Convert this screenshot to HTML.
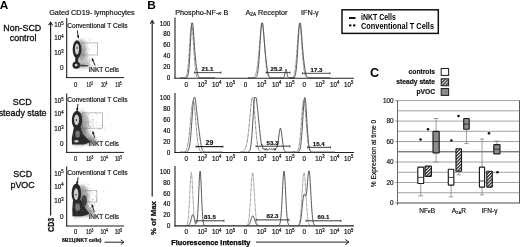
<!DOCTYPE html>
<html><head><meta charset="utf-8"><title>Figure</title>
<style>
html,body{margin:0;padding:0;background:#fff;}
body{width:520px;height:247px;overflow:hidden;}
svg{display:block;font-family:"Liberation Sans",sans-serif;}
</style></head><body>
<svg width="520" height="247" viewBox="0 0 520 247">
<defs>
<filter id="bl2" x="-50%" y="-50%" width="200%" height="200%"><feGaussianBlur stdDeviation="1.8"/></filter>
<filter id="bl1" x="-50%" y="-50%" width="200%" height="200%"><feGaussianBlur stdDeviation="0.7"/></filter>
<filter id="bl12" x="-50%" y="-50%" width="200%" height="200%"><feGaussianBlur stdDeviation="1.1"/></filter>
<filter id="bl06" x="-50%" y="-50%" width="200%" height="200%"><feGaussianBlur stdDeviation="0.65"/></filter>
<filter id="bl03" x="-50%" y="-50%" width="200%" height="200%"><feGaussianBlur stdDeviation="0.3"/></filter>
<filter id="bl05" x="-50%" y="-50%" width="200%" height="200%"><feGaussianBlur stdDeviation="0.45"/></filter>
<pattern id="hatch" width="2.3" height="2.3" patternUnits="userSpaceOnUse" patternTransform="rotate(45)"><rect width="2.3" height="2.3" fill="#fff"/><rect width="1.25" height="2.3" fill="#222"/></pattern>
</defs>
<rect width="520" height="247" fill="#fff"/>
<text x="-0.3" y="9.3" font-size="11.8" text-anchor="start" font-weight="bold" fill="#000">A</text>
<text x="49.2" y="14.5" font-size="7.3" text-anchor="start" fill="#111" stroke="#111" stroke-width="0.18">Gated CD19- lymphocytes</text>
<text x="22.3" y="30.5" font-size="8.9" text-anchor="middle" fill="#111" stroke="#111" stroke-width="0.32">Non-SCD</text>
<text x="23.1" y="40.8" font-size="8.9" text-anchor="middle" fill="#111" stroke="#111" stroke-width="0.32">control</text>
<text x="22.2" y="105.1" font-size="8.9" text-anchor="middle" fill="#111" stroke="#111" stroke-width="0.32">SCD</text>
<text x="22.6" y="115.7" font-size="8.9" text-anchor="middle" fill="#111" stroke="#111" stroke-width="0.32">steady state</text>
<text x="22.7" y="177.3" font-size="8.9" text-anchor="middle" fill="#111" stroke="#111" stroke-width="0.32">SCD</text>
<text x="22.6" y="188.0" font-size="8.9" text-anchor="middle" fill="#111" stroke="#111" stroke-width="0.32">pVOC</text>
<line x1="50.6" y1="22.8" x2="50.6" y2="215.5" stroke="#222" stroke-width="1.2"/>
<path d="M48.6 25.3 L50.6 22.2 L52.6 25.3" fill="none" stroke="#222" stroke-width="1.1" stroke-linejoin="miter"/>
<text transform="translate(54.0,231.9) rotate(-90)" font-size="8.6" font-weight="bold" fill="#111" stroke="#111" stroke-width="0.25" textLength="14" lengthAdjust="spacingAndGlyphs">CD3</text>
<text x="62" y="242.0" font-size="5.05" text-anchor="start" font-weight="bold" fill="#111" stroke="#000" stroke-width="0.2">6B11(iNKT cells)</text>
<line x1="104.5" y1="242.2" x2="123.5" y2="242.2" stroke="#222" stroke-width="1.0"/>
<path d="M120.78 239.89999999999998 L124 242.2 L120.78 244.5" fill="none" stroke="#222" stroke-width="1.0"/>
<line x1="66.7" y1="18.1" x2="66.7" y2="78.1" stroke="#222" stroke-width="1.1"/>
<line x1="66.2" y1="77.6" x2="124" y2="77.6" stroke="#1a1a1a" stroke-width="1.0"/>
<text transform="translate(54.2,27.3) scale(1,1.15)" font-size="6.25" text-anchor="start" fill="#111" stroke="#111" stroke-width="0.18">10<tspan font-size="4.25" dy="-2.00">5</tspan></text>
<text transform="translate(54.2,40.3) scale(1,1.15)" font-size="6.25" text-anchor="start" fill="#111" stroke="#111" stroke-width="0.18">10<tspan font-size="4.25" dy="-2.00">4</tspan></text>
<text transform="translate(54.2,55.099999999999994) scale(1,1.15)" font-size="6.25" text-anchor="start" fill="#111" stroke="#111" stroke-width="0.18">10<tspan font-size="4.25" dy="-2.00">3</tspan></text>
<text x="63.5" y="70.3" font-size="6.4" text-anchor="end" fill="#111" stroke="#111" stroke-width="0.18">0</text>
<text transform="translate(75.5,87.2) scale(0.9,1.08)" font-size="6.3" text-anchor="middle" fill="#111" stroke="#111" stroke-width="0.18">0</text>
<text transform="translate(89.7,87.2) scale(0.68,1.08)" font-size="6.3" text-anchor="middle" fill="#111" stroke="#111" stroke-width="0.18">10<tspan font-size="4.16" dy="-2.02">3</tspan></text>
<text transform="translate(104.1,87.2) scale(0.68,1.08)" font-size="6.3" text-anchor="middle" fill="#111" stroke="#111" stroke-width="0.18">10<tspan font-size="4.16" dy="-2.02">4</tspan></text>
<text transform="translate(118.5,87.2) scale(0.68,1.08)" font-size="6.3" text-anchor="middle" fill="#111" stroke="#111" stroke-width="0.18">10<tspan font-size="4.16" dy="-2.02">5</tspan></text>
<text x="67.3" y="27.95" font-size="6.55" text-anchor="start" fill="#111" stroke="#111" stroke-width="0.18">Conventional T Cells</text>
<text x="88.8" y="72.3" font-size="6.45" text-anchor="start" fill="#111" stroke="#111" stroke-width="0.18">iNKT Cells</text>
<rect x="81.4" y="42.9" width="16.19999999999999" height="12.100000000000001" fill="none" stroke="#a8a8a8" stroke-width="0.75"/>
<g fill="#333" opacity="0.35"><circle cx="82.7" cy="55.4" r="0.45"/><circle cx="90.4" cy="48.1" r="0.45"/><circle cx="81.6" cy="50.7" r="0.45"/><circle cx="79.1" cy="50.0" r="0.45"/><circle cx="81.1" cy="50.8" r="0.45"/><circle cx="78.1" cy="47.7" r="0.45"/><circle cx="98.1" cy="42.7" r="0.45"/><circle cx="89.3" cy="40.8" r="0.45"/><circle cx="82.9" cy="53.6" r="0.45"/><circle cx="81.4" cy="53.8" r="0.45"/><circle cx="84.6" cy="45.2" r="0.45"/><circle cx="87.3" cy="52.4" r="0.45"/><circle cx="82.3" cy="44.9" r="0.45"/><circle cx="82.6" cy="50.8" r="0.45"/><circle cx="79.6" cy="48.4" r="0.45"/><circle cx="76.9" cy="49.2" r="0.45"/><circle cx="79.8" cy="45.3" r="0.45"/><circle cx="102.5" cy="59.6" r="0.45"/><circle cx="80.6" cy="51.6" r="0.45"/><circle cx="79.0" cy="49.9" r="0.45"/><circle cx="83.2" cy="47.0" r="0.45"/><circle cx="91.3" cy="45.1" r="0.45"/><circle cx="84.7" cy="43.6" r="0.45"/><circle cx="82.5" cy="51.0" r="0.45"/><circle cx="90.1" cy="39.4" r="0.45"/><circle cx="79.6" cy="50.4" r="0.45"/><circle cx="84.8" cy="50.6" r="0.45"/><circle cx="80.3" cy="50.4" r="0.45"/><circle cx="79.0" cy="50.1" r="0.45"/><circle cx="87.6" cy="53.5" r="0.45"/><circle cx="75.1" cy="47.0" r="0.45"/><circle cx="81.2" cy="58.7" r="0.45"/><circle cx="90.7" cy="60.4" r="0.45"/><circle cx="86.4" cy="60.7" r="0.45"/><circle cx="80.4" cy="59.4" r="0.45"/><circle cx="80.2" cy="50.0" r="0.45"/><circle cx="94.3" cy="61.8" r="0.45"/><circle cx="88.9" cy="49.3" r="0.45"/><circle cx="88.0" cy="37.1" r="0.45"/><circle cx="84.0" cy="46.4" r="0.45"/><circle cx="81.9" cy="51.7" r="0.45"/><circle cx="81.5" cy="50.8" r="0.45"/><circle cx="80.2" cy="53.3" r="0.45"/><circle cx="86.7" cy="50.0" r="0.45"/><circle cx="78.6" cy="50.6" r="0.45"/><circle cx="80.3" cy="49.2" r="0.45"/><circle cx="79.1" cy="53.9" r="0.45"/><circle cx="77.7" cy="45.5" r="0.45"/><circle cx="83.1" cy="50.6" r="0.45"/><circle cx="79.2" cy="50.3" r="0.45"/><circle cx="78.8" cy="49.3" r="0.45"/><circle cx="80.8" cy="49.8" r="0.45"/><circle cx="75.5" cy="47.7" r="0.45"/><circle cx="80.3" cy="48.9" r="0.45"/><circle cx="79.3" cy="52.9" r="0.45"/><circle cx="83.4" cy="49.3" r="0.45"/><circle cx="78.6" cy="51.9" r="0.45"/><circle cx="89.7" cy="39.7" r="0.45"/><circle cx="79.2" cy="49.7" r="0.45"/><circle cx="83.4" cy="54.0" r="0.45"/><circle cx="80.4" cy="50.2" r="0.45"/><circle cx="86.3" cy="48.5" r="0.45"/><circle cx="101.7" cy="43.2" r="0.45"/><circle cx="79.3" cy="51.3" r="0.45"/><circle cx="78.6" cy="52.7" r="0.45"/><circle cx="86.1" cy="41.9" r="0.45"/><circle cx="79.7" cy="49.2" r="0.45"/><circle cx="82.3" cy="48.5" r="0.45"/><circle cx="79.0" cy="45.6" r="0.45"/><circle cx="79.4" cy="50.5" r="0.45"/><circle cx="76.7" cy="49.0" r="0.45"/><circle cx="80.0" cy="45.6" r="0.45"/><circle cx="87.7" cy="56.5" r="0.45"/><circle cx="89.6" cy="60.0" r="0.45"/><circle cx="84.0" cy="49.5" r="0.45"/><circle cx="84.2" cy="54.1" r="0.45"/><circle cx="76.9" cy="49.1" r="0.45"/><circle cx="76.3" cy="52.9" r="0.45"/><circle cx="79.8" cy="48.8" r="0.45"/><circle cx="79.4" cy="55.3" r="0.45"/><circle cx="78.9" cy="53.3" r="0.45"/><circle cx="80.6" cy="51.5" r="0.45"/><circle cx="76.8" cy="46.9" r="0.45"/><circle cx="84.9" cy="50.0" r="0.45"/><circle cx="89.5" cy="48.9" r="0.45"/><circle cx="80.2" cy="50.0" r="0.45"/><circle cx="86.4" cy="60.0" r="0.45"/><circle cx="80.2" cy="51.7" r="0.45"/><circle cx="79.9" cy="49.8" r="0.45"/><circle cx="79.0" cy="53.3" r="0.45"/><circle cx="80.8" cy="40.9" r="0.45"/><circle cx="79.5" cy="49.8" r="0.45"/><circle cx="88.0" cy="44.4" r="0.45"/><circle cx="79.4" cy="50.1" r="0.45"/><circle cx="74.7" cy="51.4" r="0.45"/><circle cx="84.2" cy="48.6" r="0.45"/><circle cx="95.5" cy="45.3" r="0.45"/><circle cx="83.8" cy="53.3" r="0.45"/><circle cx="79.2" cy="50.1" r="0.45"/><circle cx="78.8" cy="47.3" r="0.45"/><circle cx="80.7" cy="51.8" r="0.45"/><circle cx="75.8" cy="43.1" r="0.45"/><circle cx="80.8" cy="56.8" r="0.45"/><circle cx="81.9" cy="49.9" r="0.45"/><circle cx="84.7" cy="56.6" r="0.45"/><circle cx="80.7" cy="53.4" r="0.45"/><circle cx="81.2" cy="41.1" r="0.45"/><circle cx="80.5" cy="50.1" r="0.45"/><circle cx="78.2" cy="48.2" r="0.45"/><circle cx="79.0" cy="49.8" r="0.45"/></g>
<g fill="#333" opacity="0.35"><circle cx="80.2" cy="65.0" r="0.45"/><circle cx="80.4" cy="65.6" r="0.45"/><circle cx="93.7" cy="66.6" r="0.45"/><circle cx="78.3" cy="66.7" r="0.45"/><circle cx="81.2" cy="64.9" r="0.45"/><circle cx="81.5" cy="64.2" r="0.45"/><circle cx="91.7" cy="66.3" r="0.45"/><circle cx="78.6" cy="65.6" r="0.45"/><circle cx="86.5" cy="65.6" r="0.45"/><circle cx="77.7" cy="64.4" r="0.45"/><circle cx="80.9" cy="66.8" r="0.45"/><circle cx="86.8" cy="66.2" r="0.45"/><circle cx="82.4" cy="65.2" r="0.45"/><circle cx="80.5" cy="63.2" r="0.45"/><circle cx="84.0" cy="65.0" r="0.45"/><circle cx="80.0" cy="66.8" r="0.45"/><circle cx="80.6" cy="63.7" r="0.45"/><circle cx="81.9" cy="64.8" r="0.45"/><circle cx="84.4" cy="62.9" r="0.45"/><circle cx="83.7" cy="65.7" r="0.45"/><circle cx="83.4" cy="63.1" r="0.45"/><circle cx="80.3" cy="64.8" r="0.45"/><circle cx="81.6" cy="65.2" r="0.45"/><circle cx="82.4" cy="65.3" r="0.45"/><circle cx="80.1" cy="65.5" r="0.45"/><circle cx="82.4" cy="64.4" r="0.45"/><circle cx="80.1" cy="65.1" r="0.45"/><circle cx="84.5" cy="66.5" r="0.45"/><circle cx="82.1" cy="70.7" r="0.45"/><circle cx="79.9" cy="66.4" r="0.45"/><circle cx="80.1" cy="65.1" r="0.45"/><circle cx="80.4" cy="65.0" r="0.45"/><circle cx="80.3" cy="65.2" r="0.45"/><circle cx="80.0" cy="65.0" r="0.45"/><circle cx="88.1" cy="65.5" r="0.45"/><circle cx="81.0" cy="64.9" r="0.45"/><circle cx="80.0" cy="63.1" r="0.45"/><circle cx="90.1" cy="66.9" r="0.45"/><circle cx="89.3" cy="64.8" r="0.45"/><circle cx="92.3" cy="65.8" r="0.45"/><circle cx="88.7" cy="63.4" r="0.45"/><circle cx="87.4" cy="67.0" r="0.45"/><circle cx="89.1" cy="64.9" r="0.45"/><circle cx="76.0" cy="63.3" r="0.45"/><circle cx="81.0" cy="64.5" r="0.45"/><circle cx="84.5" cy="66.1" r="0.45"/><circle cx="85.1" cy="65.9" r="0.45"/><circle cx="87.6" cy="63.3" r="0.45"/><circle cx="97.7" cy="65.3" r="0.45"/><circle cx="80.4" cy="65.0" r="0.45"/><circle cx="88.0" cy="62.2" r="0.45"/><circle cx="85.8" cy="65.7" r="0.45"/><circle cx="79.8" cy="64.0" r="0.45"/><circle cx="95.6" cy="65.1" r="0.45"/><circle cx="86.8" cy="65.2" r="0.45"/><circle cx="89.6" cy="62.3" r="0.45"/><circle cx="80.2" cy="65.1" r="0.45"/><circle cx="94.9" cy="63.5" r="0.45"/><circle cx="81.6" cy="65.1" r="0.45"/><circle cx="86.6" cy="62.1" r="0.45"/></g>
<g filter="url(#bl2)"><ellipse cx="81" cy="50" rx="6" ry="11" fill="#777" opacity="0.5"/><ellipse cx="82" cy="65.5" rx="9" ry="3" fill="#777" opacity="0.45"/><path d="M79 44 L91 62 L79 66 Z" fill="#777" opacity="0.35"/></g>
<g filter="url(#bl06)"><ellipse cx="77" cy="49.3" rx="4.3" ry="9" fill="#282828"/><path d="M75.3 56 L78.3 56 L78.2 63 L75.2 63 Z" fill="#2a2a2a"/><ellipse cx="76.3" cy="65.2" rx="3.8" ry="3.6" fill="#282828"/><ellipse cx="83" cy="65.6" rx="5.5" ry="0.9" fill="#444"/></g>
<ellipse cx="77" cy="49" rx="2.1" ry="5.6" fill="#d2d2d2" filter="url(#bl05)"/><ellipse cx="77" cy="47.9" rx="0.55" ry="1.0" fill="#222"/><ellipse cx="76.1" cy="65.1" rx="1.4" ry="1.3" fill="#d0d0d0" filter="url(#bl05)"/>
<line x1="77.3" y1="30.5" x2="78.4" y2="38.2" stroke="#111" stroke-width="0.9"/>
<path d="M78.40 38.20 L76.75 35.81 L79.32 35.44 Z" fill="#111"/>
<line x1="95.1" y1="65.6" x2="92" y2="58.3" stroke="#111" stroke-width="0.9"/>
<path d="M92.00 58.30 L94.21 60.19 L91.82 61.20 Z" fill="#111"/>
<line x1="66.7" y1="93.6" x2="66.7" y2="152.9" stroke="#222" stroke-width="1.1"/>
<line x1="66.2" y1="152.4" x2="124" y2="152.4" stroke="#1a1a1a" stroke-width="1.0"/>
<text transform="translate(54.2,103.2) scale(1,1.15)" font-size="6.25" text-anchor="start" fill="#111" stroke="#111" stroke-width="0.18">10<tspan font-size="4.25" dy="-2.00">5</tspan></text>
<text transform="translate(54.2,116.2) scale(1,1.15)" font-size="6.25" text-anchor="start" fill="#111" stroke="#111" stroke-width="0.18">10<tspan font-size="4.25" dy="-2.00">4</tspan></text>
<text transform="translate(54.2,131.00000000000003) scale(1,1.15)" font-size="6.25" text-anchor="start" fill="#111" stroke="#111" stroke-width="0.18">10<tspan font-size="4.25" dy="-2.00">3</tspan></text>
<text x="63.5" y="145.8" font-size="6.4" text-anchor="end" fill="#111" stroke="#111" stroke-width="0.18">0</text>
<text transform="translate(75.5,161.2) scale(0.9,1.08)" font-size="6.3" text-anchor="middle" fill="#111" stroke="#111" stroke-width="0.18">0</text>
<text transform="translate(89.7,161.2) scale(0.76,1.08)" font-size="6.3" text-anchor="middle" fill="#111" stroke="#111" stroke-width="0.18">10<tspan font-size="4.16" dy="-2.02">3</tspan></text>
<text transform="translate(104.1,161.2) scale(0.76,1.08)" font-size="6.3" text-anchor="middle" fill="#111" stroke="#111" stroke-width="0.18">10<tspan font-size="4.16" dy="-2.02">4</tspan></text>
<text transform="translate(118.5,161.2) scale(0.76,1.08)" font-size="6.3" text-anchor="middle" fill="#111" stroke="#111" stroke-width="0.18">10<tspan font-size="4.16" dy="-2.02">5</tspan></text>
<text x="67.3" y="101.6" font-size="6.55" text-anchor="start" fill="#111" stroke="#111" stroke-width="0.18">Conventional T Cells</text>
<text x="88.8" y="146.10000000000002" font-size="6.45" text-anchor="start" fill="#111" stroke="#111" stroke-width="0.18">iNKT Cells</text>
<rect x="82.2" y="112.9" width="20.200000000000003" height="15.299999999999983" fill="none" stroke="#a8a8a8" stroke-width="0.75"/>
<g fill="#333" opacity="0.4"><circle cx="93.2" cy="125.1" r="0.45"/><circle cx="82.3" cy="124.8" r="0.45"/><circle cx="82.1" cy="125.8" r="0.45"/><circle cx="79.9" cy="125.5" r="0.45"/><circle cx="79.7" cy="126.2" r="0.45"/><circle cx="82.0" cy="131.1" r="0.45"/><circle cx="98.6" cy="140.6" r="0.45"/><circle cx="81.9" cy="123.4" r="0.45"/><circle cx="79.4" cy="124.9" r="0.45"/><circle cx="88.4" cy="126.5" r="0.45"/><circle cx="93.2" cy="126.2" r="0.45"/><circle cx="80.4" cy="126.3" r="0.45"/><circle cx="80.2" cy="126.2" r="0.45"/><circle cx="80.3" cy="125.7" r="0.45"/><circle cx="85.4" cy="124.3" r="0.45"/><circle cx="97.6" cy="137.6" r="0.45"/><circle cx="89.7" cy="126.0" r="0.45"/><circle cx="81.0" cy="129.8" r="0.45"/><circle cx="78.8" cy="127.9" r="0.45"/><circle cx="80.0" cy="131.4" r="0.45"/><circle cx="78.7" cy="125.8" r="0.45"/><circle cx="88.1" cy="121.4" r="0.45"/><circle cx="96.7" cy="114.5" r="0.45"/><circle cx="82.8" cy="116.7" r="0.45"/><circle cx="82.1" cy="113.8" r="0.45"/><circle cx="81.4" cy="129.8" r="0.45"/><circle cx="88.5" cy="123.3" r="0.45"/><circle cx="82.9" cy="132.0" r="0.45"/><circle cx="81.1" cy="125.9" r="0.45"/><circle cx="96.5" cy="122.0" r="0.45"/><circle cx="79.4" cy="128.4" r="0.45"/><circle cx="87.0" cy="126.1" r="0.45"/><circle cx="91.0" cy="121.3" r="0.45"/><circle cx="80.1" cy="126.2" r="0.45"/><circle cx="84.1" cy="130.0" r="0.45"/><circle cx="78.7" cy="124.7" r="0.45"/><circle cx="80.0" cy="119.2" r="0.45"/><circle cx="84.7" cy="128.9" r="0.45"/><circle cx="85.0" cy="127.3" r="0.45"/><circle cx="111.2" cy="125.6" r="0.45"/><circle cx="81.3" cy="125.0" r="0.45"/><circle cx="87.6" cy="129.5" r="0.45"/><circle cx="93.7" cy="123.4" r="0.45"/><circle cx="99.6" cy="128.6" r="0.45"/><circle cx="92.6" cy="119.8" r="0.45"/><circle cx="79.4" cy="127.1" r="0.45"/><circle cx="89.1" cy="114.7" r="0.45"/><circle cx="99.8" cy="136.3" r="0.45"/><circle cx="91.8" cy="124.9" r="0.45"/><circle cx="95.8" cy="112.7" r="0.45"/><circle cx="83.1" cy="126.5" r="0.45"/><circle cx="80.0" cy="126.7" r="0.45"/><circle cx="81.3" cy="124.9" r="0.45"/><circle cx="83.9" cy="123.1" r="0.45"/><circle cx="90.2" cy="131.5" r="0.45"/><circle cx="84.8" cy="128.6" r="0.45"/><circle cx="88.2" cy="122.1" r="0.45"/><circle cx="80.7" cy="125.9" r="0.45"/><circle cx="86.5" cy="122.3" r="0.45"/><circle cx="81.3" cy="125.8" r="0.45"/><circle cx="85.0" cy="134.4" r="0.45"/><circle cx="81.7" cy="126.6" r="0.45"/><circle cx="83.8" cy="121.7" r="0.45"/><circle cx="82.1" cy="128.1" r="0.45"/><circle cx="82.8" cy="122.0" r="0.45"/><circle cx="100.5" cy="125.6" r="0.45"/><circle cx="88.3" cy="125.0" r="0.45"/><circle cx="83.7" cy="139.0" r="0.45"/><circle cx="83.8" cy="134.3" r="0.45"/><circle cx="80.7" cy="128.6" r="0.45"/><circle cx="83.3" cy="122.5" r="0.45"/><circle cx="79.9" cy="127.3" r="0.45"/><circle cx="82.5" cy="128.0" r="0.45"/><circle cx="79.7" cy="125.5" r="0.45"/><circle cx="83.0" cy="108.3" r="0.45"/><circle cx="79.9" cy="126.3" r="0.45"/><circle cx="80.4" cy="114.9" r="0.45"/><circle cx="82.5" cy="127.6" r="0.45"/><circle cx="84.8" cy="131.5" r="0.45"/><circle cx="80.2" cy="126.0" r="0.45"/><circle cx="82.9" cy="125.6" r="0.45"/><circle cx="84.8" cy="119.7" r="0.45"/><circle cx="76.7" cy="128.2" r="0.45"/><circle cx="80.7" cy="127.2" r="0.45"/><circle cx="89.7" cy="121.3" r="0.45"/><circle cx="80.2" cy="124.5" r="0.45"/><circle cx="104.5" cy="129.5" r="0.45"/><circle cx="79.9" cy="119.4" r="0.45"/><circle cx="82.3" cy="128.3" r="0.45"/><circle cx="82.3" cy="145.1" r="0.45"/><circle cx="80.1" cy="126.1" r="0.45"/><circle cx="80.9" cy="125.7" r="0.45"/><circle cx="88.2" cy="124.1" r="0.45"/><circle cx="79.6" cy="125.8" r="0.45"/><circle cx="80.1" cy="126.0" r="0.45"/><circle cx="91.5" cy="122.4" r="0.45"/><circle cx="80.5" cy="125.0" r="0.45"/><circle cx="97.5" cy="117.1" r="0.45"/><circle cx="85.8" cy="133.9" r="0.45"/><circle cx="85.2" cy="135.7" r="0.45"/><circle cx="80.0" cy="127.9" r="0.45"/><circle cx="79.8" cy="126.7" r="0.45"/><circle cx="87.0" cy="122.0" r="0.45"/><circle cx="80.6" cy="126.3" r="0.45"/><circle cx="82.1" cy="120.9" r="0.45"/><circle cx="82.1" cy="124.7" r="0.45"/><circle cx="80.1" cy="119.5" r="0.45"/><circle cx="87.9" cy="118.1" r="0.45"/><circle cx="92.6" cy="122.4" r="0.45"/><circle cx="80.2" cy="135.0" r="0.45"/><circle cx="86.8" cy="132.2" r="0.45"/><circle cx="77.5" cy="130.1" r="0.45"/><circle cx="82.6" cy="125.9" r="0.45"/><circle cx="101.8" cy="125.2" r="0.45"/><circle cx="77.1" cy="127.0" r="0.45"/><circle cx="100.4" cy="129.4" r="0.45"/><circle cx="88.8" cy="131.2" r="0.45"/><circle cx="107.3" cy="117.8" r="0.45"/><circle cx="85.9" cy="121.8" r="0.45"/><circle cx="82.8" cy="125.4" r="0.45"/><circle cx="85.1" cy="123.8" r="0.45"/><circle cx="83.7" cy="128.9" r="0.45"/><circle cx="80.4" cy="135.1" r="0.45"/><circle cx="90.3" cy="126.5" r="0.45"/><circle cx="81.8" cy="123.6" r="0.45"/><circle cx="82.7" cy="120.1" r="0.45"/><circle cx="89.0" cy="128.4" r="0.45"/><circle cx="84.6" cy="122.5" r="0.45"/><circle cx="82.2" cy="128.3" r="0.45"/><circle cx="78.8" cy="133.0" r="0.45"/><circle cx="84.0" cy="132.1" r="0.45"/><circle cx="79.1" cy="123.8" r="0.45"/><circle cx="84.2" cy="129.1" r="0.45"/><circle cx="74.5" cy="126.4" r="0.45"/><circle cx="78.6" cy="127.6" r="0.45"/><circle cx="90.8" cy="127.7" r="0.45"/><circle cx="75.1" cy="127.0" r="0.45"/><circle cx="84.7" cy="127.9" r="0.45"/><circle cx="84.7" cy="129.1" r="0.45"/><circle cx="79.9" cy="126.0" r="0.45"/><circle cx="74.9" cy="134.8" r="0.45"/><circle cx="80.4" cy="126.8" r="0.45"/><circle cx="92.9" cy="122.9" r="0.45"/><circle cx="81.9" cy="125.4" r="0.45"/><circle cx="93.5" cy="120.1" r="0.45"/><circle cx="83.5" cy="116.4" r="0.45"/><circle cx="90.7" cy="130.7" r="0.45"/><circle cx="83.7" cy="137.7" r="0.45"/><circle cx="84.6" cy="125.7" r="0.45"/><circle cx="79.8" cy="123.4" r="0.45"/><circle cx="98.2" cy="129.1" r="0.45"/><circle cx="84.1" cy="121.8" r="0.45"/><circle cx="93.1" cy="120.0" r="0.45"/><circle cx="84.6" cy="127.6" r="0.45"/><circle cx="86.4" cy="128.0" r="0.45"/><circle cx="90.9" cy="127.0" r="0.45"/><circle cx="81.9" cy="126.1" r="0.45"/><circle cx="99.8" cy="129.4" r="0.45"/><circle cx="84.9" cy="126.5" r="0.45"/><circle cx="83.3" cy="127.4" r="0.45"/><circle cx="96.6" cy="125.3" r="0.45"/><circle cx="80.5" cy="123.2" r="0.45"/><circle cx="93.5" cy="125.4" r="0.45"/><circle cx="84.6" cy="125.1" r="0.45"/><circle cx="92.2" cy="116.2" r="0.45"/><circle cx="80.0" cy="126.3" r="0.45"/><circle cx="105.9" cy="126.8" r="0.45"/><circle cx="79.5" cy="121.5" r="0.45"/><circle cx="91.0" cy="129.1" r="0.45"/><circle cx="93.0" cy="119.7" r="0.45"/></g>
<g fill="#333" opacity="0.4"><circle cx="81.0" cy="139.5" r="0.45"/><circle cx="84.6" cy="143.0" r="0.45"/><circle cx="83.3" cy="141.0" r="0.45"/><circle cx="81.6" cy="141.5" r="0.45"/><circle cx="84.3" cy="140.0" r="0.45"/><circle cx="85.1" cy="141.5" r="0.45"/><circle cx="91.3" cy="138.9" r="0.45"/><circle cx="77.5" cy="139.3" r="0.45"/><circle cx="94.3" cy="142.9" r="0.45"/><circle cx="82.2" cy="140.9" r="0.45"/><circle cx="91.2" cy="140.9" r="0.45"/><circle cx="86.5" cy="141.3" r="0.45"/><circle cx="82.8" cy="137.1" r="0.45"/><circle cx="80.8" cy="140.1" r="0.45"/><circle cx="86.2" cy="140.5" r="0.45"/><circle cx="90.0" cy="141.3" r="0.45"/><circle cx="79.3" cy="139.4" r="0.45"/><circle cx="85.7" cy="141.8" r="0.45"/><circle cx="82.5" cy="140.9" r="0.45"/><circle cx="82.1" cy="141.0" r="0.45"/><circle cx="84.0" cy="143.5" r="0.45"/><circle cx="87.2" cy="140.0" r="0.45"/><circle cx="87.0" cy="142.1" r="0.45"/><circle cx="84.6" cy="141.4" r="0.45"/><circle cx="83.5" cy="140.7" r="0.45"/><circle cx="92.9" cy="141.2" r="0.45"/><circle cx="90.6" cy="140.3" r="0.45"/><circle cx="93.8" cy="140.0" r="0.45"/><circle cx="82.0" cy="141.5" r="0.45"/><circle cx="83.6" cy="141.2" r="0.45"/><circle cx="82.3" cy="141.0" r="0.45"/><circle cx="83.6" cy="140.9" r="0.45"/><circle cx="85.2" cy="142.9" r="0.45"/><circle cx="85.2" cy="139.5" r="0.45"/><circle cx="81.9" cy="141.2" r="0.45"/><circle cx="82.7" cy="140.4" r="0.45"/><circle cx="92.2" cy="141.1" r="0.45"/><circle cx="82.8" cy="138.0" r="0.45"/><circle cx="83.0" cy="142.2" r="0.45"/><circle cx="84.5" cy="141.8" r="0.45"/><circle cx="85.3" cy="139.2" r="0.45"/><circle cx="95.5" cy="140.0" r="0.45"/><circle cx="84.0" cy="139.3" r="0.45"/><circle cx="83.2" cy="140.9" r="0.45"/><circle cx="88.2" cy="139.8" r="0.45"/><circle cx="82.0" cy="140.8" r="0.45"/><circle cx="82.3" cy="138.9" r="0.45"/><circle cx="81.6" cy="145.0" r="0.45"/><circle cx="80.8" cy="140.2" r="0.45"/><circle cx="97.0" cy="141.6" r="0.45"/><circle cx="84.4" cy="139.6" r="0.45"/><circle cx="90.3" cy="140.2" r="0.45"/><circle cx="81.8" cy="141.6" r="0.45"/><circle cx="83.9" cy="141.5" r="0.45"/><circle cx="89.2" cy="142.1" r="0.45"/><circle cx="86.3" cy="141.2" r="0.45"/><circle cx="86.0" cy="138.9" r="0.45"/><circle cx="93.6" cy="142.0" r="0.45"/><circle cx="80.4" cy="142.3" r="0.45"/><circle cx="76.9" cy="142.5" r="0.45"/><circle cx="86.2" cy="140.5" r="0.45"/><circle cx="83.4" cy="141.2" r="0.45"/><circle cx="85.4" cy="140.0" r="0.45"/><circle cx="91.8" cy="138.9" r="0.45"/><circle cx="94.2" cy="142.8" r="0.45"/><circle cx="86.5" cy="142.9" r="0.45"/><circle cx="82.4" cy="141.0" r="0.45"/><circle cx="88.0" cy="142.3" r="0.45"/><circle cx="102.9" cy="140.0" r="0.45"/><circle cx="82.5" cy="141.0" r="0.45"/><circle cx="83.3" cy="141.1" r="0.45"/><circle cx="91.8" cy="140.5" r="0.45"/><circle cx="93.1" cy="138.4" r="0.45"/><circle cx="93.0" cy="141.0" r="0.45"/><circle cx="82.1" cy="140.8" r="0.45"/><circle cx="82.1" cy="141.0" r="0.45"/><circle cx="86.1" cy="142.9" r="0.45"/><circle cx="82.0" cy="141.1" r="0.45"/><circle cx="82.8" cy="141.7" r="0.45"/><circle cx="94.8" cy="143.1" r="0.45"/></g>
<g filter="url(#bl2)"><ellipse cx="82" cy="123" rx="7" ry="12" fill="#666" opacity="0.5"/><path d="M76 120 L98 142 L74 146 Z" fill="#666" opacity="0.55"/><ellipse cx="86" cy="141" rx="10" ry="3.5" fill="#666" opacity="0.45"/></g>
<g filter="url(#bl06)"><ellipse cx="77" cy="120" rx="5.2" ry="9.2" fill="#282828"/><path d="M74 127 L80.6 127 L83 134 L88 139.5 L91 141.6 L88 143 L84 144.6 L72 144.6 L71.8 138 Z" fill="#2a2a2a"/></g>
<ellipse cx="76.6" cy="119.8" rx="2.5" ry="5.4" fill="#cfcfcf" filter="url(#bl05)"/><ellipse cx="76.5" cy="120.1" rx="0.55" ry="1.0" fill="#222"/><ellipse cx="76.4" cy="141.3" rx="2.3" ry="1.3" fill="#c8c8c8" filter="url(#bl05)"/>
<ellipse cx="77.6" cy="134" rx="2.2" ry="3.6" fill="#777" filter="url(#bl06)"/>
<g fill="#8a8a8a" opacity="0.6" filter="url(#bl03)"><circle cx="75.1" cy="136.7" r="0.5"/><circle cx="79.7" cy="136.7" r="0.5"/><circle cx="79.2" cy="133.0" r="0.5"/><circle cx="77.5" cy="133.4" r="0.5"/><circle cx="81.2" cy="130.7" r="0.5"/><circle cx="81.2" cy="130.2" r="0.5"/><circle cx="76.0" cy="132.2" r="0.5"/><circle cx="81.3" cy="134.3" r="0.5"/><circle cx="77.3" cy="137.5" r="0.5"/><circle cx="76.3" cy="133.9" r="0.5"/></g>
<line x1="78" y1="104" x2="77" y2="111" stroke="#111" stroke-width="0.9"/>
<path d="M77.00 111.00 L76.08 108.24 L78.65 108.61 Z" fill="#111"/>
<line x1="94.8" y1="138" x2="92.7" y2="131.3" stroke="#111" stroke-width="0.9"/>
<path d="M92.70 131.30 L94.72 133.39 L92.24 134.17 Z" fill="#111"/>
<line x1="66.7" y1="166.6" x2="66.7" y2="226.5" stroke="#222" stroke-width="1.1"/>
<line x1="66.2" y1="226.0" x2="124" y2="226.0" stroke="#1a1a1a" stroke-width="1.0"/>
<text transform="translate(54.2,175.5) scale(1,1.15)" font-size="6.25" text-anchor="start" fill="#111" stroke="#111" stroke-width="0.18">10<tspan font-size="4.25" dy="-2.00">5</tspan></text>
<text transform="translate(54.2,188.5) scale(1,1.15)" font-size="6.25" text-anchor="start" fill="#111" stroke="#111" stroke-width="0.18">10<tspan font-size="4.25" dy="-2.00">4</tspan></text>
<text transform="translate(54.2,203.3) scale(1,1.15)" font-size="6.25" text-anchor="start" fill="#111" stroke="#111" stroke-width="0.18">10<tspan font-size="4.25" dy="-2.00">3</tspan></text>
<text x="63.5" y="218.8" font-size="6.4" text-anchor="end" fill="#111" stroke="#111" stroke-width="0.18">0</text>
<text transform="translate(75.5,233.7) scale(0.9,1.08)" font-size="6.3" text-anchor="middle" fill="#111" stroke="#111" stroke-width="0.18">0</text>
<text transform="translate(89.7,233.7) scale(0.8,1.08)" font-size="6.3" text-anchor="middle" fill="#111" stroke="#111" stroke-width="0.18">10<tspan font-size="4.16" dy="-2.02">3</tspan></text>
<text transform="translate(104.1,233.7) scale(0.8,1.08)" font-size="6.3" text-anchor="middle" fill="#111" stroke="#111" stroke-width="0.18">10<tspan font-size="4.16" dy="-2.02">4</tspan></text>
<text transform="translate(118.5,233.7) scale(0.8,1.08)" font-size="6.3" text-anchor="middle" fill="#111" stroke="#111" stroke-width="0.18">10<tspan font-size="4.16" dy="-2.02">5</tspan></text>
<text x="67.3" y="175.1" font-size="6.55" text-anchor="start" fill="#111" stroke="#111" stroke-width="0.18">Conventional T Cells</text>
<text x="88.8" y="218.8" font-size="6.45" text-anchor="start" fill="#111" stroke="#111" stroke-width="0.18">iNKT Cells</text>
<rect x="82.2" y="190.7" width="14.599999999999994" height="11.300000000000011" fill="none" stroke="#a8a8a8" stroke-width="0.75"/>
<g fill="#333" opacity="0.4"><circle cx="80.6" cy="198.9" r="0.45"/><circle cx="91.7" cy="209.5" r="0.45"/><circle cx="85.5" cy="204.2" r="0.45"/><circle cx="87.2" cy="207.3" r="0.45"/><circle cx="80.8" cy="195.5" r="0.45"/><circle cx="82.2" cy="197.7" r="0.45"/><circle cx="82.2" cy="202.6" r="0.45"/><circle cx="90.1" cy="208.4" r="0.45"/><circle cx="80.1" cy="203.3" r="0.45"/><circle cx="86.1" cy="206.3" r="0.45"/><circle cx="79.8" cy="198.9" r="0.45"/><circle cx="84.5" cy="201.1" r="0.45"/><circle cx="85.4" cy="198.6" r="0.45"/><circle cx="86.3" cy="210.3" r="0.45"/><circle cx="82.5" cy="200.3" r="0.45"/><circle cx="89.3" cy="203.4" r="0.45"/><circle cx="86.0" cy="188.8" r="0.45"/><circle cx="80.0" cy="199.0" r="0.45"/><circle cx="81.2" cy="199.5" r="0.45"/><circle cx="103.6" cy="191.5" r="0.45"/><circle cx="79.3" cy="199.8" r="0.45"/><circle cx="82.9" cy="186.9" r="0.45"/><circle cx="84.5" cy="195.2" r="0.45"/><circle cx="86.0" cy="208.2" r="0.45"/><circle cx="95.1" cy="205.8" r="0.45"/><circle cx="87.0" cy="194.3" r="0.45"/><circle cx="94.4" cy="203.8" r="0.45"/><circle cx="79.4" cy="196.3" r="0.45"/><circle cx="84.8" cy="205.9" r="0.45"/><circle cx="74.8" cy="199.7" r="0.45"/><circle cx="86.7" cy="200.0" r="0.45"/><circle cx="81.8" cy="198.6" r="0.45"/><circle cx="90.8" cy="204.1" r="0.45"/><circle cx="86.8" cy="198.7" r="0.45"/><circle cx="78.2" cy="192.1" r="0.45"/><circle cx="80.4" cy="200.0" r="0.45"/><circle cx="79.9" cy="199.2" r="0.45"/><circle cx="83.8" cy="202.1" r="0.45"/><circle cx="80.2" cy="200.0" r="0.45"/><circle cx="81.0" cy="199.4" r="0.45"/><circle cx="80.5" cy="199.4" r="0.45"/><circle cx="88.0" cy="197.0" r="0.45"/><circle cx="80.7" cy="201.4" r="0.45"/><circle cx="87.9" cy="204.3" r="0.45"/><circle cx="83.3" cy="193.6" r="0.45"/><circle cx="79.5" cy="205.4" r="0.45"/><circle cx="88.7" cy="206.3" r="0.45"/><circle cx="96.8" cy="201.2" r="0.45"/><circle cx="95.5" cy="195.9" r="0.45"/><circle cx="89.6" cy="190.7" r="0.45"/><circle cx="80.2" cy="199.1" r="0.45"/><circle cx="92.7" cy="199.1" r="0.45"/><circle cx="80.1" cy="199.2" r="0.45"/><circle cx="89.2" cy="201.8" r="0.45"/><circle cx="77.1" cy="189.3" r="0.45"/><circle cx="99.8" cy="203.7" r="0.45"/><circle cx="81.2" cy="198.5" r="0.45"/><circle cx="84.4" cy="195.9" r="0.45"/><circle cx="96.8" cy="199.8" r="0.45"/><circle cx="84.2" cy="201.0" r="0.45"/><circle cx="80.2" cy="200.2" r="0.45"/><circle cx="89.1" cy="195.0" r="0.45"/><circle cx="86.3" cy="206.1" r="0.45"/><circle cx="78.5" cy="193.2" r="0.45"/><circle cx="81.0" cy="196.4" r="0.45"/><circle cx="86.7" cy="198.2" r="0.45"/><circle cx="90.6" cy="201.7" r="0.45"/><circle cx="81.0" cy="205.6" r="0.45"/><circle cx="92.7" cy="199.4" r="0.45"/><circle cx="84.9" cy="199.2" r="0.45"/><circle cx="80.9" cy="198.9" r="0.45"/><circle cx="81.0" cy="199.1" r="0.45"/><circle cx="83.2" cy="195.5" r="0.45"/><circle cx="89.6" cy="197.5" r="0.45"/><circle cx="81.2" cy="198.1" r="0.45"/><circle cx="79.7" cy="197.7" r="0.45"/><circle cx="87.0" cy="207.0" r="0.45"/><circle cx="81.3" cy="198.4" r="0.45"/><circle cx="79.5" cy="194.2" r="0.45"/><circle cx="85.2" cy="202.7" r="0.45"/><circle cx="81.1" cy="198.9" r="0.45"/><circle cx="87.3" cy="201.5" r="0.45"/><circle cx="82.8" cy="195.6" r="0.45"/><circle cx="101.9" cy="198.7" r="0.45"/><circle cx="97.4" cy="198.6" r="0.45"/><circle cx="81.3" cy="200.5" r="0.45"/><circle cx="84.5" cy="207.9" r="0.45"/><circle cx="88.6" cy="200.4" r="0.45"/><circle cx="82.8" cy="197.4" r="0.45"/><circle cx="81.1" cy="199.0" r="0.45"/><circle cx="92.1" cy="194.9" r="0.45"/><circle cx="89.4" cy="195.2" r="0.45"/><circle cx="89.7" cy="193.4" r="0.45"/><circle cx="85.6" cy="191.3" r="0.45"/><circle cx="89.9" cy="188.1" r="0.45"/><circle cx="82.2" cy="202.1" r="0.45"/><circle cx="82.3" cy="189.5" r="0.45"/><circle cx="84.0" cy="193.8" r="0.45"/><circle cx="80.5" cy="198.9" r="0.45"/><circle cx="84.3" cy="204.9" r="0.45"/><circle cx="82.3" cy="197.2" r="0.45"/><circle cx="81.6" cy="199.3" r="0.45"/><circle cx="88.9" cy="184.7" r="0.45"/><circle cx="92.3" cy="199.7" r="0.45"/><circle cx="106.3" cy="188.1" r="0.45"/><circle cx="91.1" cy="203.3" r="0.45"/><circle cx="81.0" cy="198.2" r="0.45"/><circle cx="86.7" cy="199.1" r="0.45"/><circle cx="78.9" cy="201.2" r="0.45"/><circle cx="80.8" cy="199.5" r="0.45"/><circle cx="80.2" cy="198.4" r="0.45"/><circle cx="98.7" cy="202.9" r="0.45"/><circle cx="82.7" cy="191.5" r="0.45"/><circle cx="90.7" cy="191.9" r="0.45"/><circle cx="77.5" cy="200.3" r="0.45"/><circle cx="80.8" cy="196.6" r="0.45"/><circle cx="93.0" cy="199.8" r="0.45"/><circle cx="86.8" cy="209.7" r="0.45"/><circle cx="84.5" cy="203.9" r="0.45"/><circle cx="87.2" cy="204.0" r="0.45"/><circle cx="82.8" cy="199.7" r="0.45"/><circle cx="84.0" cy="201.9" r="0.45"/><circle cx="87.1" cy="194.2" r="0.45"/><circle cx="85.5" cy="197.7" r="0.45"/><circle cx="79.7" cy="198.7" r="0.45"/><circle cx="81.2" cy="196.5" r="0.45"/><circle cx="92.9" cy="213.5" r="0.45"/><circle cx="96.5" cy="191.2" r="0.45"/><circle cx="88.1" cy="201.5" r="0.45"/><circle cx="78.2" cy="196.1" r="0.45"/><circle cx="80.1" cy="198.9" r="0.45"/><circle cx="80.6" cy="199.2" r="0.45"/><circle cx="81.1" cy="197.4" r="0.45"/><circle cx="79.7" cy="197.6" r="0.45"/><circle cx="83.2" cy="198.0" r="0.45"/><circle cx="77.2" cy="185.4" r="0.45"/><circle cx="87.6" cy="205.9" r="0.45"/><circle cx="82.4" cy="203.7" r="0.45"/><circle cx="81.5" cy="198.6" r="0.45"/><circle cx="96.1" cy="201.3" r="0.45"/><circle cx="80.0" cy="199.1" r="0.45"/><circle cx="98.3" cy="206.1" r="0.45"/><circle cx="79.9" cy="197.9" r="0.45"/><circle cx="91.9" cy="192.3" r="0.45"/><circle cx="86.6" cy="199.6" r="0.45"/><circle cx="81.8" cy="201.4" r="0.45"/><circle cx="87.3" cy="204.5" r="0.45"/><circle cx="82.9" cy="201.5" r="0.45"/><circle cx="84.0" cy="199.0" r="0.45"/><circle cx="80.9" cy="196.5" r="0.45"/><circle cx="86.7" cy="196.0" r="0.45"/><circle cx="76.4" cy="200.6" r="0.45"/><circle cx="90.4" cy="191.6" r="0.45"/><circle cx="80.2" cy="198.2" r="0.45"/><circle cx="79.3" cy="198.5" r="0.45"/><circle cx="80.6" cy="213.1" r="0.45"/><circle cx="80.6" cy="200.3" r="0.45"/><circle cx="78.7" cy="198.0" r="0.45"/><circle cx="104.2" cy="203.1" r="0.45"/><circle cx="87.1" cy="195.8" r="0.45"/><circle cx="86.6" cy="202.9" r="0.45"/><circle cx="79.6" cy="197.8" r="0.45"/><circle cx="85.0" cy="193.2" r="0.45"/><circle cx="77.6" cy="197.9" r="0.45"/><circle cx="81.6" cy="204.7" r="0.45"/><circle cx="79.5" cy="198.2" r="0.45"/><circle cx="90.6" cy="188.0" r="0.45"/><circle cx="78.9" cy="195.9" r="0.45"/><circle cx="76.5" cy="201.7" r="0.45"/><circle cx="87.1" cy="189.9" r="0.45"/></g>
<g fill="#333" opacity="0.4"><circle cx="82.2" cy="213.0" r="0.45"/><circle cx="82.2" cy="214.0" r="0.45"/><circle cx="85.6" cy="213.1" r="0.45"/><circle cx="84.8" cy="211.7" r="0.45"/><circle cx="81.9" cy="212.8" r="0.45"/><circle cx="81.9" cy="213.6" r="0.45"/><circle cx="84.8" cy="212.3" r="0.45"/><circle cx="81.1" cy="213.4" r="0.45"/><circle cx="86.1" cy="211.6" r="0.45"/><circle cx="85.5" cy="211.4" r="0.45"/><circle cx="85.0" cy="212.3" r="0.45"/><circle cx="83.2" cy="211.8" r="0.45"/><circle cx="85.3" cy="213.9" r="0.45"/><circle cx="85.2" cy="214.0" r="0.45"/><circle cx="83.6" cy="212.4" r="0.45"/><circle cx="81.4" cy="214.0" r="0.45"/><circle cx="81.2" cy="213.5" r="0.45"/><circle cx="82.2" cy="212.9" r="0.45"/><circle cx="83.7" cy="213.1" r="0.45"/><circle cx="80.5" cy="214.2" r="0.45"/><circle cx="86.0" cy="213.0" r="0.45"/><circle cx="83.6" cy="212.7" r="0.45"/><circle cx="83.1" cy="211.4" r="0.45"/><circle cx="91.3" cy="207.5" r="0.45"/><circle cx="93.9" cy="216.2" r="0.45"/><circle cx="82.1" cy="213.0" r="0.45"/><circle cx="84.2" cy="212.7" r="0.45"/><circle cx="87.4" cy="215.5" r="0.45"/><circle cx="82.3" cy="212.7" r="0.45"/><circle cx="84.9" cy="212.5" r="0.45"/><circle cx="82.6" cy="213.8" r="0.45"/><circle cx="86.9" cy="210.3" r="0.45"/><circle cx="86.4" cy="216.1" r="0.45"/><circle cx="83.1" cy="211.6" r="0.45"/><circle cx="80.9" cy="211.0" r="0.45"/><circle cx="98.3" cy="213.2" r="0.45"/><circle cx="98.8" cy="210.6" r="0.45"/><circle cx="83.1" cy="213.6" r="0.45"/><circle cx="85.3" cy="213.8" r="0.45"/><circle cx="90.2" cy="213.1" r="0.45"/><circle cx="86.7" cy="213.4" r="0.45"/><circle cx="81.9" cy="212.9" r="0.45"/><circle cx="83.0" cy="213.5" r="0.45"/><circle cx="79.4" cy="213.8" r="0.45"/><circle cx="93.4" cy="212.2" r="0.45"/><circle cx="82.4" cy="213.0" r="0.45"/><circle cx="83.0" cy="213.0" r="0.45"/><circle cx="82.0" cy="214.4" r="0.45"/><circle cx="94.4" cy="213.5" r="0.45"/><circle cx="90.7" cy="213.2" r="0.45"/><circle cx="95.5" cy="211.4" r="0.45"/><circle cx="83.5" cy="212.6" r="0.45"/><circle cx="89.9" cy="213.5" r="0.45"/><circle cx="83.5" cy="214.8" r="0.45"/><circle cx="79.8" cy="214.1" r="0.45"/><circle cx="88.0" cy="214.8" r="0.45"/><circle cx="81.9" cy="210.9" r="0.45"/><circle cx="94.2" cy="215.3" r="0.45"/><circle cx="80.4" cy="211.2" r="0.45"/><circle cx="82.3" cy="212.7" r="0.45"/><circle cx="81.9" cy="214.2" r="0.45"/><circle cx="81.1" cy="211.1" r="0.45"/><circle cx="82.8" cy="212.6" r="0.45"/><circle cx="81.2" cy="212.8" r="0.45"/><circle cx="82.1" cy="215.7" r="0.45"/><circle cx="88.5" cy="212.7" r="0.45"/><circle cx="83.9" cy="213.2" r="0.45"/><circle cx="82.1" cy="213.0" r="0.45"/><circle cx="78.7" cy="212.0" r="0.45"/><circle cx="92.0" cy="211.0" r="0.45"/><circle cx="82.9" cy="212.7" r="0.45"/><circle cx="77.7" cy="212.1" r="0.45"/><circle cx="82.0" cy="213.0" r="0.45"/><circle cx="93.4" cy="212.2" r="0.45"/><circle cx="83.0" cy="213.6" r="0.45"/><circle cx="85.9" cy="212.8" r="0.45"/><circle cx="83.4" cy="215.6" r="0.45"/><circle cx="83.8" cy="213.4" r="0.45"/><circle cx="83.8" cy="214.5" r="0.45"/><circle cx="85.9" cy="213.5" r="0.45"/></g>
<g filter="url(#bl2)"><ellipse cx="82" cy="197" rx="7" ry="12" fill="#666" opacity="0.55"/><path d="M76 192 L95 213 L74 218 Z" fill="#666" opacity="0.55"/><ellipse cx="85" cy="213" rx="9" ry="3.5" fill="#666" opacity="0.45"/></g>
<g filter="url(#bl1)"><ellipse cx="84.3" cy="200.5" rx="2.6" ry="5.5" fill="#333" opacity="0.85"/></g>
<g filter="url(#bl06)"><ellipse cx="76.4" cy="193.3" rx="4.8" ry="9.9" fill="#282828"/><path d="M73 200 L80.8 200 L83.2 204 L86.4 210 L89.5 213.6 L86.4 215 L82 216.2 L72.5 216.2 L72.3 209 Z" fill="#2a2a2a"/></g>
<ellipse cx="76.1" cy="194.1" rx="2.3" ry="5.9" fill="#cfcfcf" filter="url(#bl05)"/><ellipse cx="76" cy="194.8" rx="0.55" ry="1.0" fill="#222"/>
<ellipse cx="77.6" cy="207" rx="2.4" ry="3.8" fill="#777" filter="url(#bl06)"/>
<g fill="#8a8a8a" opacity="0.6" filter="url(#bl03)"><circle cx="82.4" cy="210.0" r="0.5"/><circle cx="79.7" cy="210.5" r="0.5"/><circle cx="76.0" cy="211.2" r="0.5"/><circle cx="78.6" cy="209.3" r="0.5"/><circle cx="80.1" cy="208.4" r="0.5"/><circle cx="77.1" cy="205.8" r="0.5"/><circle cx="76.2" cy="208.9" r="0.5"/><circle cx="77.8" cy="209.7" r="0.5"/><circle cx="74.1" cy="207.1" r="0.5"/><circle cx="82.6" cy="205.7" r="0.5"/><circle cx="79.6" cy="208.7" r="0.5"/><circle cx="76.8" cy="214.4" r="0.5"/><circle cx="77.0" cy="211.9" r="0.5"/><circle cx="75.6" cy="203.8" r="0.5"/></g>
<line x1="78.2" y1="177.3" x2="76.9" y2="184.4" stroke="#111" stroke-width="0.9"/>
<path d="M76.90 184.40 L76.09 181.61 L78.65 182.08 Z" fill="#111"/>
<line x1="94.3" y1="211.8" x2="91.9" y2="204.5" stroke="#111" stroke-width="0.9"/>
<path d="M91.90 204.50 L93.95 206.56 L91.48 207.38 Z" fill="#111"/>
<text x="147.3" y="9.0" font-size="11.8" text-anchor="start" font-weight="bold" fill="#000">B</text>
<line x1="152.2" y1="21.200000000000003" x2="152.2" y2="196.5" stroke="#222" stroke-width="1.2"/>
<path d="M150.2 23.700000000000003 L152.2 20.6 L154.2 23.700000000000003" fill="none" stroke="#222" stroke-width="1.1" stroke-linejoin="miter"/>
<text transform="translate(155.6,234.9) rotate(-90)" font-size="7.8" font-weight="bold" fill="#111" stroke="#111" stroke-width="0.25">% of Max</text>
<text x="175.2" y="14.7" font-size="7.25" text-anchor="start" fill="#111" stroke="#111" stroke-width="0.18">Phospho-NF-<tspan font-style="italic" font-size="6.2">κ</tspan> B</text>
<text x="245.5" y="14.7" font-size="7.25" fill="#111" stroke="#111" stroke-width="0.18">A<tspan font-size="4.6" dy="1.5">2A</tspan><tspan dy="-1.5"> Receptor</tspan></text>
<text x="301" y="14.7" font-size="7.25" text-anchor="start" fill="#111" stroke="#111" stroke-width="0.18">IFN-γ</text>
<text x="171.3" y="245.2" font-size="7.3" text-anchor="start" font-weight="bold" fill="#000" stroke="#000" stroke-width="0.25">Fluorescence Intensity</text>
<line x1="256" y1="242.1" x2="348.5" y2="242.1" stroke="#222" stroke-width="1.0"/>
<path d="M345.36 239.5 L349 242.1 L345.36 244.7" fill="none" stroke="#222" stroke-width="1.0"/>
<line x1="175.0" y1="17.5" x2="175.0" y2="78.7" stroke="#222" stroke-width="1.1"/>
<line x1="174.5" y1="78.2" x2="354" y2="78.2" stroke="#222" stroke-width="1.1"/>
<text transform="translate(170.4,25.5) scale(1,1.1)" font-size="6.4" text-anchor="end" fill="#111" stroke="#111" stroke-width="0.18">100</text>
<text transform="translate(170.4,36.4) scale(1,1.1)" font-size="6.4" text-anchor="end" fill="#111" stroke="#111" stroke-width="0.18">80</text>
<text transform="translate(170.4,47.3) scale(1,1.1)" font-size="6.4" text-anchor="end" fill="#111" stroke="#111" stroke-width="0.18">60</text>
<text transform="translate(170.4,58.2) scale(1,1.1)" font-size="6.4" text-anchor="end" fill="#111" stroke="#111" stroke-width="0.18">40</text>
<text transform="translate(170.4,69.1) scale(1,1.1)" font-size="6.4" text-anchor="end" fill="#111" stroke="#111" stroke-width="0.18">20</text>
<text transform="translate(170.4,80.0) scale(1,1.1)" font-size="6.4" text-anchor="end" fill="#111" stroke="#111" stroke-width="0.18">0</text>
<text transform="translate(186.3,86.6) scale(1,1.15)" font-size="6.25" text-anchor="middle" fill="#111" stroke="#111" stroke-width="0.18">0</text>
<text transform="translate(202.3,86.6) scale(1,1.15)" font-size="6.25" text-anchor="middle" fill="#111" stroke="#111" stroke-width="0.18">10<tspan font-size="4.25" dy="-2.00">3</tspan></text>
<text transform="translate(216.6,86.6) scale(1,1.15)" font-size="6.25" text-anchor="middle" fill="#111" stroke="#111" stroke-width="0.18">10<tspan font-size="4.25" dy="-2.00">4</tspan></text>
<text transform="translate(230.5,86.6) scale(1,1.15)" font-size="6.25" text-anchor="middle" fill="#111" stroke="#111" stroke-width="0.18">10<tspan font-size="4.25" dy="-2.00">5</tspan></text>
<text transform="translate(245.6,86.6) scale(1,1.15)" font-size="6.25" text-anchor="middle" fill="#111" stroke="#111" stroke-width="0.18">0</text>
<text transform="translate(261.6,86.6) scale(1,1.15)" font-size="6.25" text-anchor="middle" fill="#111" stroke="#111" stroke-width="0.18">10<tspan font-size="4.25" dy="-2.00">3</tspan></text>
<text transform="translate(276.6,86.6) scale(1,1.15)" font-size="6.25" text-anchor="middle" fill="#111" stroke="#111" stroke-width="0.18">10<tspan font-size="4.25" dy="-2.00">4</tspan></text>
<text transform="translate(290,86.6) scale(1,1.15)" font-size="6.25" text-anchor="middle" fill="#111" stroke="#111" stroke-width="0.18">10<tspan font-size="4.25" dy="-2.00">5</tspan></text>
<text transform="translate(304.2,86.6) scale(1,1.15)" font-size="6.25" text-anchor="middle" fill="#111" stroke="#111" stroke-width="0.18">0</text>
<text transform="translate(320,86.6) scale(1,1.15)" font-size="6.25" text-anchor="middle" fill="#111" stroke="#111" stroke-width="0.18">10<tspan font-size="4.25" dy="-2.00">3</tspan></text>
<text transform="translate(334.6,86.6) scale(1,1.15)" font-size="6.25" text-anchor="middle" fill="#111" stroke="#111" stroke-width="0.18">10<tspan font-size="4.25" dy="-2.00">4</tspan></text>
<text transform="translate(348.6,86.6) scale(1,1.15)" font-size="6.25" text-anchor="middle" fill="#111" stroke="#111" stroke-width="0.18">10<tspan font-size="4.25" dy="-2.00">5</tspan></text>
<line x1="175.0" y1="93" x2="175.0" y2="153.0" stroke="#222" stroke-width="1.1"/>
<line x1="174.5" y1="152.5" x2="354" y2="152.5" stroke="#222" stroke-width="1.1"/>
<text transform="translate(170.4,100.3) scale(1,1.1)" font-size="6.4" text-anchor="end" fill="#111" stroke="#111" stroke-width="0.18">100</text>
<text transform="translate(170.4,111.2) scale(1,1.1)" font-size="6.4" text-anchor="end" fill="#111" stroke="#111" stroke-width="0.18">80</text>
<text transform="translate(170.4,122.1) scale(1,1.1)" font-size="6.4" text-anchor="end" fill="#111" stroke="#111" stroke-width="0.18">60</text>
<text transform="translate(170.4,133.0) scale(1,1.1)" font-size="6.4" text-anchor="end" fill="#111" stroke="#111" stroke-width="0.18">40</text>
<text transform="translate(170.4,143.9) scale(1,1.1)" font-size="6.4" text-anchor="end" fill="#111" stroke="#111" stroke-width="0.18">20</text>
<text transform="translate(170.4,154.8) scale(1,1.1)" font-size="6.4" text-anchor="end" fill="#111" stroke="#111" stroke-width="0.18">0</text>
<text transform="translate(186.3,160.6) scale(1,1.15)" font-size="6.25" text-anchor="middle" fill="#111" stroke="#111" stroke-width="0.18">0</text>
<text transform="translate(202.3,160.6) scale(1,1.15)" font-size="6.25" text-anchor="middle" fill="#111" stroke="#111" stroke-width="0.18">10<tspan font-size="4.25" dy="-2.00">3</tspan></text>
<text transform="translate(216.6,160.6) scale(1,1.15)" font-size="6.25" text-anchor="middle" fill="#111" stroke="#111" stroke-width="0.18">10<tspan font-size="4.25" dy="-2.00">4</tspan></text>
<text transform="translate(230.5,160.6) scale(1,1.15)" font-size="6.25" text-anchor="middle" fill="#111" stroke="#111" stroke-width="0.18">10<tspan font-size="4.25" dy="-2.00">5</tspan></text>
<text transform="translate(245.6,160.6) scale(1,1.15)" font-size="6.25" text-anchor="middle" fill="#111" stroke="#111" stroke-width="0.18">0</text>
<text transform="translate(261.6,160.6) scale(1,1.15)" font-size="6.25" text-anchor="middle" fill="#111" stroke="#111" stroke-width="0.18">10<tspan font-size="4.25" dy="-2.00">3</tspan></text>
<text transform="translate(276.6,160.6) scale(1,1.15)" font-size="6.25" text-anchor="middle" fill="#111" stroke="#111" stroke-width="0.18">10<tspan font-size="4.25" dy="-2.00">4</tspan></text>
<text transform="translate(290,160.6) scale(1,1.15)" font-size="6.25" text-anchor="middle" fill="#111" stroke="#111" stroke-width="0.18">10<tspan font-size="4.25" dy="-2.00">5</tspan></text>
<text transform="translate(304.2,160.6) scale(1,1.15)" font-size="6.25" text-anchor="middle" fill="#111" stroke="#111" stroke-width="0.18">0</text>
<text transform="translate(320,160.6) scale(1,1.15)" font-size="6.25" text-anchor="middle" fill="#111" stroke="#111" stroke-width="0.18">10<tspan font-size="4.25" dy="-2.00">3</tspan></text>
<text transform="translate(334.6,160.6) scale(1,1.15)" font-size="6.25" text-anchor="middle" fill="#111" stroke="#111" stroke-width="0.18">10<tspan font-size="4.25" dy="-2.00">4</tspan></text>
<text transform="translate(348.6,160.6) scale(1,1.15)" font-size="6.25" text-anchor="middle" fill="#111" stroke="#111" stroke-width="0.18">10<tspan font-size="4.25" dy="-2.00">5</tspan></text>
<line x1="175.0" y1="166" x2="175.0" y2="226.4" stroke="#222" stroke-width="1.1"/>
<line x1="174.5" y1="225.9" x2="354" y2="225.9" stroke="#222" stroke-width="1.1"/>
<text transform="translate(170.4,173.9) scale(1,1.1)" font-size="6.4" text-anchor="end" fill="#111" stroke="#111" stroke-width="0.18">100</text>
<text transform="translate(170.4,184.74) scale(1,1.1)" font-size="6.4" text-anchor="end" fill="#111" stroke="#111" stroke-width="0.18">80</text>
<text transform="translate(170.4,195.58) scale(1,1.1)" font-size="6.4" text-anchor="end" fill="#111" stroke="#111" stroke-width="0.18">60</text>
<text transform="translate(170.4,206.42000000000002) scale(1,1.1)" font-size="6.4" text-anchor="end" fill="#111" stroke="#111" stroke-width="0.18">40</text>
<text transform="translate(170.4,217.26) scale(1,1.1)" font-size="6.4" text-anchor="end" fill="#111" stroke="#111" stroke-width="0.18">20</text>
<text transform="translate(170.4,228.1) scale(1,1.1)" font-size="6.4" text-anchor="end" fill="#111" stroke="#111" stroke-width="0.18">0</text>
<text transform="translate(186.3,233.9) scale(1,1.15)" font-size="6.25" text-anchor="middle" fill="#111" stroke="#111" stroke-width="0.18">0</text>
<text transform="translate(202.3,233.9) scale(1,1.15)" font-size="6.25" text-anchor="middle" fill="#111" stroke="#111" stroke-width="0.18">10<tspan font-size="4.25" dy="-2.00">3</tspan></text>
<text transform="translate(216.6,233.9) scale(1,1.15)" font-size="6.25" text-anchor="middle" fill="#111" stroke="#111" stroke-width="0.18">10<tspan font-size="4.25" dy="-2.00">4</tspan></text>
<text transform="translate(230.5,233.9) scale(1,1.15)" font-size="6.25" text-anchor="middle" fill="#111" stroke="#111" stroke-width="0.18">10<tspan font-size="4.25" dy="-2.00">5</tspan></text>
<text transform="translate(245.6,233.9) scale(1,1.15)" font-size="6.25" text-anchor="middle" fill="#111" stroke="#111" stroke-width="0.18">0</text>
<text transform="translate(261.6,233.9) scale(1,1.15)" font-size="6.25" text-anchor="middle" fill="#111" stroke="#111" stroke-width="0.18">10<tspan font-size="4.25" dy="-2.00">3</tspan></text>
<text transform="translate(276.6,233.9) scale(1,1.15)" font-size="6.25" text-anchor="middle" fill="#111" stroke="#111" stroke-width="0.18">10<tspan font-size="4.25" dy="-2.00">4</tspan></text>
<text transform="translate(290,233.9) scale(1,1.15)" font-size="6.25" text-anchor="middle" fill="#111" stroke="#111" stroke-width="0.18">10<tspan font-size="4.25" dy="-2.00">5</tspan></text>
<text transform="translate(304.2,233.9) scale(1,1.15)" font-size="6.25" text-anchor="middle" fill="#111" stroke="#111" stroke-width="0.18">0</text>
<text transform="translate(320,233.9) scale(1,1.15)" font-size="6.25" text-anchor="middle" fill="#111" stroke="#111" stroke-width="0.18">10<tspan font-size="4.25" dy="-2.00">3</tspan></text>
<text transform="translate(334.6,233.9) scale(1,1.15)" font-size="6.25" text-anchor="middle" fill="#111" stroke="#111" stroke-width="0.18">10<tspan font-size="4.25" dy="-2.00">4</tspan></text>
<text transform="translate(348.6,233.9) scale(1,1.15)" font-size="6.25" text-anchor="middle" fill="#111" stroke="#111" stroke-width="0.18">10<tspan font-size="4.25" dy="-2.00">5</tspan></text>
<path d="M180.00 77.90 L180.25 77.90 L180.50 77.90 L180.75 77.90 L181.00 77.90 L181.25 77.90 L181.50 77.90 L181.75 77.90 L182.00 77.90 L182.25 77.90 L182.50 77.90 L182.75 77.90 L183.00 77.90 L183.25 77.90 L183.50 77.90 L183.75 77.90 L184.00 77.90 L184.25 77.90 L184.50 77.90 L184.75 77.90 L185.00 77.89 L185.25 77.88 L185.50 77.87 L185.75 77.85 L186.00 77.81 L186.25 77.75 L186.50 77.66 L186.75 77.51 L187.00 77.29 L187.25 76.96 L187.50 76.49 L187.75 75.82 L188.00 74.90 L188.25 73.67 L188.50 72.07 L188.75 70.02 L189.00 67.48 L189.25 64.42 L189.50 60.83 L189.75 56.75 L190.00 52.24 L190.25 47.43 L190.50 42.48 L190.75 37.59 L191.00 32.98 L191.25 28.88 L191.50 25.48 L191.75 23.00 L192.00 23.00 L192.25 23.00 L192.50 23.00 L192.75 23.13 L193.00 25.49 L193.25 28.48 L193.50 31.92 L193.75 35.61 L194.00 39.38 L194.25 43.10 L194.50 46.66 L194.75 50.00 L195.00 53.10 L195.25 55.96 L195.50 58.60 L195.75 61.04 L196.00 63.29 L196.25 65.37 L196.50 67.29 L196.75 69.04 L197.00 70.62 L197.25 72.03 L197.50 73.25 L197.75 74.29 L198.00 75.15 L198.25 75.86 L198.50 76.41 L198.75 76.84 L199.00 77.17 L199.25 77.40 L199.50 77.57 L199.75 77.69 L200.00 77.76 L200.25 77.82 L200.50 77.85 L200.75 77.87 L201.00 77.88 L201.25 77.89 L201.50 77.89 L201.75 77.90 L202.00 77.90 L202.25 77.90 L202.50 77.90 L202.75 77.90 L203.00 77.90 L203.25 77.90 L203.50 77.90 L203.75 77.90 L204.00 77.90 L204.25 77.90 L204.50 77.90 L204.75 77.90 L205.00 77.90 L205.25 77.90 L205.50 77.90 L205.75 77.90 L206.00 77.90 L206.25 77.90 L206.50 77.90 L206.75 77.90 L207.00 77.90 L207.25 77.90 L207.50 77.90 L207.75 77.90 L208.00 77.90 L208.25 77.90 L208.50 77.90 L208.75 77.90 L209.00 77.90 L209.25 77.90 L209.50 77.90 L209.75 77.90 L210.00 77.90 L210.25 77.90 L210.50 77.90 L210.75 77.90 L211.00 77.90 L211.25 77.90 L211.50 77.90 L211.75 77.90 L212.00 77.90 L212.25 77.90 L212.50 77.90 L212.75 77.90 L213.00 77.90 L213.25 77.90 L213.50 77.90 L213.75 77.90 L214.00 77.90 L214.25 77.90 L214.50 77.90 L214.75 77.90 L215.00 77.90" fill="none" stroke="#2e2e2e" stroke-width="0.8" stroke-linejoin="round"/>
<path d="M180.00 77.90 L180.25 77.90 L180.50 77.90 L180.75 77.90 L181.00 77.90 L181.25 77.90 L181.50 77.90 L181.75 77.90 L182.00 77.90 L182.25 77.90 L182.50 77.90 L182.75 77.90 L183.00 77.89 L183.25 77.89 L183.50 77.89 L183.75 77.88 L184.00 77.86 L184.25 77.84 L184.50 77.80 L184.75 77.75 L185.00 77.67 L185.25 77.56 L185.50 77.39 L185.75 77.16 L186.00 76.84 L186.25 76.41 L186.50 75.84 L186.75 75.09 L187.00 74.12 L187.25 72.90 L187.50 71.39 L187.75 69.55 L188.00 67.36 L188.25 64.80 L188.50 61.88 L188.75 58.61 L189.00 55.02 L189.25 51.20 L189.50 47.21 L189.75 43.18 L190.00 39.23 L190.25 35.50 L190.50 32.12 L190.75 29.25 L191.00 26.99 L191.25 25.46 L191.50 24.71 L191.75 24.80 L192.00 25.70 L192.25 27.39 L192.50 29.77 L192.75 32.76 L193.00 36.22 L193.25 40.01 L193.50 43.99 L193.75 48.02 L194.00 51.98 L194.25 55.76 L194.50 59.29 L194.75 62.49 L195.00 65.35 L195.25 67.83 L195.50 69.94 L195.75 71.71 L196.00 73.16 L196.25 74.33 L196.50 75.25 L196.75 75.97 L197.00 76.51 L197.25 76.92 L197.50 77.21 L197.75 77.43 L198.00 77.58 L198.25 77.69 L198.50 77.76 L198.75 77.81 L199.00 77.84 L199.25 77.86 L199.50 77.88 L199.75 77.89 L200.00 77.89 L200.25 77.90 L200.50 77.90 L200.75 77.90 L201.00 77.90 L201.25 77.90 L201.50 77.90 L201.75 77.90 L202.00 77.90 L202.25 77.90 L202.50 77.90 L202.75 77.90 L203.00 77.90 L203.25 77.90 L203.50 77.90 L203.75 77.90 L204.00 77.90 L204.25 77.90 L204.50 77.90 L204.75 77.90 L205.00 77.90 L205.25 77.90 L205.50 77.90 L205.75 77.90 L206.00 77.90 L206.25 77.90 L206.50 77.90 L206.75 77.90 L207.00 77.90 L207.25 77.90 L207.50 77.90 L207.75 77.90 L208.00 77.90 L208.25 77.90 L208.50 77.90 L208.75 77.90 L209.00 77.90 L209.25 77.90 L209.50 77.90 L209.75 77.90 L210.00 77.90 L210.25 77.90 L210.50 77.90 L210.75 77.90 L211.00 77.90 L211.25 77.90 L211.50 77.90 L211.75 77.90 L212.00 77.90 L212.25 77.90 L212.50 77.90 L212.75 77.90 L213.00 77.90 L213.25 77.90 L213.50 77.90 L213.75 77.90 L214.00 77.90 L214.25 77.90 L214.50 77.90 L214.75 77.90 L215.00 77.90" fill="none" stroke="#555" stroke-width="1.0" stroke-dasharray="0.7 0.55" stroke-linejoin="round"/>
<line x1="194.5" y1="72.6" x2="221" y2="72.6" stroke="#222" stroke-width="0.8"/>
<line x1="194.5" y1="71.39999999999999" x2="194.5" y2="73.8" stroke="#222" stroke-width="0.6"/>
<line x1="221" y1="71.39999999999999" x2="221" y2="73.8" stroke="#222" stroke-width="0.6"/>
<text x="207.5" y="71.1" font-size="6.1" text-anchor="middle" font-weight="bold" fill="#111" stroke="#111" stroke-width="0.18">21.1</text>
<path d="M248.00 77.90 L248.25 77.90 L248.50 77.90 L248.75 77.90 L249.00 77.90 L249.25 77.90 L249.50 77.90 L249.75 77.90 L250.00 77.90 L250.25 77.90 L250.50 77.90 L250.75 77.90 L251.00 77.90 L251.25 77.90 L251.50 77.90 L251.75 77.90 L252.00 77.90 L252.25 77.90 L252.50 77.90 L252.75 77.90 L253.00 77.90 L253.25 77.90 L253.50 77.89 L253.75 77.89 L254.00 77.88 L254.25 77.87 L254.50 77.85 L254.75 77.82 L255.00 77.78 L255.25 77.72 L255.50 77.62 L255.75 77.48 L256.00 77.29 L256.25 77.02 L256.50 76.65 L256.75 76.15 L257.00 75.49 L257.25 74.63 L257.50 73.53 L257.75 72.16 L258.00 70.47 L258.25 68.43 L258.50 66.03 L258.75 63.24 L259.00 60.07 L259.25 56.56 L259.50 52.75 L259.75 48.71 L260.00 44.55 L260.25 40.38 L260.50 36.34 L260.75 32.55 L261.00 29.17 L261.25 26.31 L261.50 24.09 L261.75 23.00 L262.00 23.00 L262.25 23.00 L262.50 23.00 L262.75 24.03 L263.00 26.04 L263.25 28.52 L263.50 31.34 L263.75 34.39 L264.00 37.55 L264.25 40.73 L264.50 43.86 L264.75 46.88 L265.00 49.76 L265.25 52.49 L265.50 55.07 L265.75 57.50 L266.00 59.79 L266.25 61.95 L266.50 63.99 L266.75 65.89 L267.00 67.67 L267.25 69.29 L267.50 70.77 L267.75 72.08 L268.00 73.24 L268.25 74.23 L268.50 75.06 L268.75 75.74 L269.00 76.29 L269.25 76.73 L269.50 77.06 L269.75 77.31 L270.00 77.50 L270.25 77.63 L270.50 77.72 L270.75 77.78 L271.00 77.83 L271.25 77.85 L271.50 77.87 L271.75 77.88 L272.00 77.89 L272.25 77.89 L272.50 77.90 L272.75 77.90 L273.00 77.90 L273.25 77.90 L273.50 77.90 L273.75 77.90 L274.00 77.90 L274.25 77.90 L274.50 77.90 L274.75 77.90 L275.00 77.90 L275.25 77.90 L275.50 77.90 L275.75 77.90 L276.00 77.90 L276.25 77.90 L276.50 77.90 L276.75 77.90 L277.00 77.90 L277.25 77.90 L277.50 77.90 L277.75 77.90 L278.00 77.90 L278.25 77.90 L278.50 77.90 L278.75 77.90 L279.00 77.90 L279.25 77.90 L279.50 77.90 L279.75 77.90 L280.00 77.90 L280.25 77.90 L280.50 77.90 L280.75 77.90 L281.00 77.90 L281.25 77.90 L281.50 77.90 L281.75 77.90 L282.00 77.90 L282.25 77.90 L282.50 77.90 L282.75 77.89 L283.00 77.87 L283.25 77.82 L283.50 77.71 L283.75 77.51 L284.00 77.16 L284.25 76.57 L284.50 75.71 L284.75 74.55 L285.00 73.16 L285.25 71.69 L285.50 70.37 L285.75 69.45 L286.00 69.12 L286.25 69.45 L286.50 70.37 L286.75 71.69 L287.00 73.16 L287.25 74.55 L287.50 75.71 L287.75 76.57 L288.00 77.16 L288.25 77.51 L288.50 77.71 L288.75 77.82 L289.00 77.87 L289.25 77.89 L289.50 77.90 L289.75 77.90 L290.00 77.90 L290.25 77.90 L290.50 77.90 L290.75 77.90 L291.00 77.90 L291.25 77.90 L291.50 77.90 L291.75 77.90 L292.00 77.90 L292.25 77.90 L292.50 77.90 L292.75 77.90 L293.00 77.90 L293.25 77.90 L293.50 77.90 L293.75 77.90 L294.00 77.90 L294.25 77.90 L294.50 77.90 L294.75 77.90 L295.00 77.90" fill="none" stroke="#2e2e2e" stroke-width="0.8" stroke-linejoin="round"/>
<path d="M248.00 77.90 L248.25 77.90 L248.50 77.90 L248.75 77.90 L249.00 77.90 L249.25 77.90 L249.50 77.90 L249.75 77.90 L250.00 77.90 L250.25 77.90 L250.50 77.90 L250.75 77.90 L251.00 77.89 L251.25 77.89 L251.50 77.89 L251.75 77.88 L252.00 77.87 L252.25 77.85 L252.50 77.82 L252.75 77.79 L253.00 77.74 L253.25 77.67 L253.50 77.58 L253.75 77.46 L254.00 77.31 L254.25 77.11 L254.50 76.85 L254.75 76.52 L255.00 76.12 L255.25 75.63 L255.50 75.04 L255.75 74.33 L256.00 73.49 L256.25 72.52 L256.50 71.40 L256.75 70.11 L257.00 68.66 L257.25 67.04 L257.50 65.23 L257.75 63.24 L258.00 61.06 L258.25 58.71 L258.50 56.18 L258.75 53.50 L259.00 50.69 L259.25 47.76 L259.50 44.77 L259.75 41.76 L260.00 38.77 L260.25 35.87 L260.50 33.13 L260.75 30.62 L261.00 28.39 L261.25 26.53 L261.50 25.08 L261.75 24.11 L262.00 23.64 L262.25 23.71 L262.50 24.32 L262.75 25.45 L263.00 27.09 L263.25 29.18 L263.50 31.67 L263.75 34.50 L264.00 37.58 L264.25 40.84 L264.50 44.19 L264.75 47.57 L265.00 50.91 L265.25 54.13 L265.50 57.20 L265.75 60.06 L266.00 62.69 L266.25 65.07 L266.50 67.20 L266.75 69.07 L267.00 70.69 L267.25 72.08 L267.50 73.25 L267.75 74.23 L268.00 75.03 L268.25 75.68 L268.50 76.20 L268.75 76.61 L269.00 76.94 L269.25 77.19 L269.50 77.38 L269.75 77.52 L270.00 77.63 L270.25 77.71 L270.50 77.77 L270.75 77.81 L271.00 77.84 L271.25 77.86 L271.50 77.87 L271.75 77.88 L272.00 77.89 L272.25 77.89 L272.50 77.89 L272.75 77.90 L273.00 77.90 L273.25 77.90 L273.50 77.90 L273.75 77.90 L274.00 77.90 L274.25 77.90 L274.50 77.90 L274.75 77.90 L275.00 77.90 L275.25 77.90 L275.50 77.90 L275.75 77.90 L276.00 77.90 L276.25 77.90 L276.50 77.90 L276.75 77.90 L277.00 77.90 L277.25 77.90 L277.50 77.90 L277.75 77.90 L278.00 77.90 L278.25 77.90 L278.50 77.90 L278.75 77.90 L279.00 77.90 L279.25 77.90 L279.50 77.90 L279.75 77.90 L280.00 77.90 L280.25 77.90 L280.50 77.90 L280.75 77.90 L281.00 77.90 L281.25 77.90 L281.50 77.90 L281.75 77.90 L282.00 77.90 L282.25 77.90 L282.50 77.90 L282.75 77.90 L283.00 77.90 L283.25 77.90 L283.50 77.90 L283.75 77.90 L284.00 77.90 L284.25 77.90 L284.50 77.90 L284.75 77.90 L285.00 77.90 L285.25 77.90 L285.50 77.90 L285.75 77.90 L286.00 77.90 L286.25 77.90 L286.50 77.90 L286.75 77.90 L287.00 77.90 L287.25 77.90 L287.50 77.90 L287.75 77.90 L288.00 77.90 L288.25 77.90 L288.50 77.90 L288.75 77.90 L289.00 77.90 L289.25 77.90 L289.50 77.90 L289.75 77.90 L290.00 77.90 L290.25 77.90 L290.50 77.90 L290.75 77.90 L291.00 77.90 L291.25 77.90 L291.50 77.90 L291.75 77.90 L292.00 77.90 L292.25 77.90 L292.50 77.90 L292.75 77.90 L293.00 77.90 L293.25 77.90 L293.50 77.90 L293.75 77.90 L294.00 77.90 L294.25 77.90 L294.50 77.90 L294.75 77.90 L295.00 77.90" fill="none" stroke="#555" stroke-width="1.0" stroke-dasharray="0.7 0.55" stroke-linejoin="round"/>
<line x1="266" y1="72.6" x2="290" y2="72.6" stroke="#222" stroke-width="0.8"/>
<line x1="266" y1="71.39999999999999" x2="266" y2="73.8" stroke="#222" stroke-width="0.6"/>
<line x1="290" y1="71.39999999999999" x2="290" y2="73.8" stroke="#222" stroke-width="0.6"/>
<text x="276.5" y="71.1" font-size="6.1" text-anchor="middle" font-weight="bold" fill="#111" stroke="#111" stroke-width="0.18">25.2</text>
<path d="M290.00 77.90 L290.25 77.90 L290.50 77.90 L290.75 77.90 L291.00 77.90 L291.25 77.90 L291.50 77.90 L291.75 77.89 L292.00 77.89 L292.25 77.88 L292.50 77.87 L292.75 77.85 L293.00 77.82 L293.25 77.78 L293.50 77.71 L293.75 77.61 L294.00 77.46 L294.25 77.24 L294.50 76.93 L294.75 76.51 L295.00 75.93 L295.25 75.15 L295.50 74.14 L295.75 72.85 L296.00 71.22 L296.25 69.22 L296.50 66.83 L296.75 64.00 L297.00 60.76 L297.25 57.13 L297.50 53.15 L297.75 48.91 L298.00 44.53 L298.25 40.13 L298.50 35.88 L298.75 31.93 L299.00 28.44 L299.25 25.56 L299.50 23.41 L299.75 23.00 L300.00 23.00 L300.25 23.00 L300.50 23.11 L300.75 24.97 L301.00 27.42 L301.25 30.31 L301.50 33.51 L301.75 36.87 L302.00 40.27 L302.25 43.62 L302.50 46.83 L302.75 49.87 L303.00 52.71 L303.25 55.36 L303.50 57.82 L303.75 60.10 L304.00 62.23 L304.25 64.22 L304.50 66.06 L304.75 67.78 L305.00 69.35 L305.25 70.78 L305.50 72.07 L305.75 73.20 L306.00 74.17 L306.25 75.00 L306.50 75.69 L306.75 76.24 L307.00 76.68 L307.25 77.02 L307.50 77.28 L307.75 77.47 L308.00 77.61 L308.25 77.71 L308.50 77.78 L308.75 77.82 L309.00 77.85 L309.25 77.87 L309.50 77.88 L309.75 77.89 L310.00 77.89 L310.25 77.90 L310.50 77.90 L310.75 77.90 L311.00 77.90 L311.25 77.90 L311.50 77.90 L311.75 77.90 L312.00 77.90 L312.25 77.90 L312.50 77.90 L312.75 77.90 L313.00 77.90 L313.25 77.90 L313.50 77.90 L313.75 77.90 L314.00 77.90 L314.25 77.90 L314.50 77.90 L314.75 77.90 L315.00 77.90 L315.25 77.90 L315.50 77.90 L315.75 77.90 L316.00 77.90 L316.25 77.90 L316.50 77.90 L316.75 77.90 L317.00 77.90 L317.25 77.90 L317.50 77.90 L317.75 77.90 L318.00 77.90 L318.25 77.90 L318.50 77.90 L318.75 77.90 L319.00 77.90 L319.25 77.90 L319.50 77.90 L319.75 77.90 L320.00 77.90 L320.25 77.90 L320.50 77.90 L320.75 77.90 L321.00 77.90 L321.25 77.90 L321.50 77.90 L321.75 77.90 L322.00 77.90 L322.25 77.90 L322.50 77.90 L322.75 77.90 L323.00 77.90 L323.25 77.90 L323.50 77.90 L323.75 77.90 L324.00 77.90 L324.25 77.90 L324.50 77.90 L324.75 77.90 L325.00 77.90 L325.25 77.90 L325.50 77.90 L325.75 77.90 L326.00 77.90 L326.25 77.90 L326.50 77.90 L326.75 77.90 L327.00 77.90 L327.25 77.90 L327.50 77.90 L327.75 77.90 L328.00 77.90 L328.25 77.90 L328.50 77.90 L328.75 77.90 L329.00 77.90 L329.25 77.90 L329.50 77.90 L329.75 77.90 L330.00 77.90" fill="none" stroke="#2e2e2e" stroke-width="0.8" stroke-linejoin="round"/>
<path d="M290.00 77.89 L290.25 77.89 L290.50 77.88 L290.75 77.87 L291.00 77.85 L291.25 77.83 L291.50 77.79 L291.75 77.74 L292.00 77.67 L292.25 77.58 L292.50 77.45 L292.75 77.27 L293.00 77.03 L293.25 76.72 L293.50 76.32 L293.75 75.80 L294.00 75.15 L294.25 74.34 L294.50 73.34 L294.75 72.14 L295.00 70.69 L295.25 69.00 L295.50 67.03 L295.75 64.78 L296.00 62.26 L296.25 59.46 L296.50 56.43 L296.75 53.19 L297.00 49.79 L297.25 46.30 L297.50 42.80 L297.75 39.37 L298.00 36.09 L298.25 33.07 L298.50 30.40 L298.75 28.16 L299.00 26.43 L299.25 25.26 L299.50 24.70 L299.75 24.76 L300.00 25.45 L300.25 26.73 L300.50 28.57 L300.75 30.90 L301.00 33.65 L301.25 36.73 L301.50 40.04 L301.75 43.50 L302.00 47.00 L302.25 50.48 L302.50 53.85 L302.75 57.05 L303.00 60.04 L303.25 62.78 L303.50 65.25 L303.75 67.44 L304.00 69.36 L304.25 71.00 L304.50 72.39 L304.75 73.56 L305.00 74.52 L305.25 75.29 L305.50 75.92 L305.75 76.41 L306.00 76.79 L306.25 77.09 L306.50 77.31 L306.75 77.48 L307.00 77.60 L307.25 77.69 L307.50 77.75 L307.75 77.80 L308.00 77.83 L308.25 77.85 L308.50 77.87 L308.75 77.88 L309.00 77.89 L309.25 77.89 L309.50 77.89 L309.75 77.90 L310.00 77.90 L310.25 77.90 L310.50 77.90 L310.75 77.90 L311.00 77.90 L311.25 77.90 L311.50 77.90 L311.75 77.90 L312.00 77.90 L312.25 77.90 L312.50 77.90 L312.75 77.90 L313.00 77.90 L313.25 77.90 L313.50 77.90 L313.75 77.90 L314.00 77.90 L314.25 77.90 L314.50 77.90 L314.75 77.90 L315.00 77.90 L315.25 77.90 L315.50 77.90 L315.75 77.90 L316.00 77.90 L316.25 77.90 L316.50 77.90 L316.75 77.90 L317.00 77.90 L317.25 77.90 L317.50 77.90 L317.75 77.90 L318.00 77.90 L318.25 77.90 L318.50 77.90 L318.75 77.90 L319.00 77.90 L319.25 77.90 L319.50 77.90 L319.75 77.90 L320.00 77.90 L320.25 77.90 L320.50 77.90 L320.75 77.90 L321.00 77.90 L321.25 77.90 L321.50 77.90 L321.75 77.90 L322.00 77.90 L322.25 77.90 L322.50 77.90 L322.75 77.90 L323.00 77.90 L323.25 77.90 L323.50 77.90 L323.75 77.90 L324.00 77.90 L324.25 77.90 L324.50 77.90 L324.75 77.90 L325.00 77.90 L325.25 77.90 L325.50 77.90 L325.75 77.90 L326.00 77.90 L326.25 77.90 L326.50 77.90 L326.75 77.90 L327.00 77.90 L327.25 77.90 L327.50 77.90 L327.75 77.90 L328.00 77.90 L328.25 77.90 L328.50 77.90 L328.75 77.90 L329.00 77.90 L329.25 77.90 L329.50 77.90 L329.75 77.90 L330.00 77.90" fill="none" stroke="#555" stroke-width="1.0" stroke-dasharray="0.7 0.55" stroke-linejoin="round"/>
<line x1="302.5" y1="73.3" x2="330" y2="73.3" stroke="#222" stroke-width="0.8"/>
<line x1="302.5" y1="72.1" x2="302.5" y2="74.5" stroke="#222" stroke-width="0.6"/>
<line x1="330" y1="72.1" x2="330" y2="74.5" stroke="#222" stroke-width="0.6"/>
<text x="316.5" y="71.8" font-size="6.1" text-anchor="middle" font-weight="bold" fill="#111" stroke="#111" stroke-width="0.18">17.3</text>
<path d="M180.00 152.20 L180.25 152.20 L180.50 152.20 L180.75 152.20 L181.00 152.20 L181.25 152.20 L181.50 152.20 L181.75 152.20 L182.00 152.20 L182.25 152.20 L182.50 152.20 L182.75 152.20 L183.00 152.20 L183.25 152.20 L183.50 152.20 L183.75 152.20 L184.00 152.20 L184.25 152.20 L184.50 152.19 L184.75 152.19 L185.00 152.18 L185.25 152.18 L185.50 152.16 L185.75 152.15 L186.00 152.12 L186.25 152.08 L186.50 152.03 L186.75 151.95 L187.00 151.84 L187.25 151.70 L187.50 151.51 L187.75 151.25 L188.00 150.92 L188.25 150.48 L188.50 149.92 L188.75 149.22 L189.00 148.35 L189.25 147.29 L189.50 146.00 L189.75 144.47 L190.00 142.67 L190.25 140.59 L190.50 138.23 L190.75 135.58 L191.00 132.65 L191.25 129.49 L191.50 126.11 L191.75 122.59 L192.00 118.99 L192.25 115.37 L192.50 111.84 L192.75 108.48 L193.00 105.38 L193.25 102.62 L193.50 100.29 L193.75 98.45 L194.00 97.50 L194.25 97.50 L194.50 97.50 L194.75 97.50 L195.00 97.50 L195.25 98.74 L195.50 100.41 L195.75 102.39 L196.00 104.57 L196.25 106.89 L196.50 109.27 L196.75 111.65 L197.00 113.99 L197.25 116.27 L197.50 118.47 L197.75 120.58 L198.00 122.63 L198.25 124.62 L198.50 126.58 L198.75 128.52 L199.00 130.44 L199.25 132.36 L199.50 134.26 L199.75 136.15 L200.00 137.99 L200.25 139.77 L200.50 141.46 L200.75 143.05 L201.00 144.52 L201.25 145.84 L201.50 147.01 L201.75 148.04 L202.00 148.91 L202.25 149.64 L202.50 150.24 L202.75 150.73 L203.00 151.11 L203.25 151.41 L203.50 151.63 L203.75 151.80 L204.00 151.92 L204.25 152.01 L204.50 152.07 L204.75 152.12 L205.00 152.15 L205.25 152.17 L205.50 152.18 L205.75 152.19 L206.00 152.19 L206.25 152.20 L206.50 152.20 L206.75 152.20 L207.00 152.20 L207.25 152.20 L207.50 152.20 L207.75 152.20 L208.00 152.20 L208.25 152.20 L208.50 152.20 L208.75 152.20 L209.00 152.20 L209.25 152.20 L209.50 152.20 L209.75 152.20 L210.00 152.20 L210.25 152.20 L210.50 152.20 L210.75 152.20 L211.00 152.20 L211.25 152.20 L211.50 152.20 L211.75 152.20 L212.00 152.20 L212.25 152.20 L212.50 152.20 L212.75 152.20 L213.00 152.20 L213.25 152.20 L213.50 152.20 L213.75 152.20 L214.00 152.20 L214.25 152.20 L214.50 152.20 L214.75 152.20 L215.00 152.20 L215.25 152.20 L215.50 152.20 L215.75 152.20 L216.00 152.20 L216.25 152.20 L216.50 152.20 L216.75 152.20 L217.00 152.20 L217.25 152.20 L217.50 152.20 L217.75 152.20 L218.00 152.20 L218.25 152.20 L218.50 152.20 L218.75 152.20 L219.00 152.20 L219.25 152.20 L219.50 152.20 L219.75 152.20 L220.00 152.20 L220.25 152.20 L220.50 152.20 L220.75 152.20 L221.00 152.20 L221.25 152.20 L221.50 152.20 L221.75 152.20 L222.00 152.20" fill="none" stroke="#2e2e2e" stroke-width="0.8" stroke-linejoin="round"/>
<path d="M180.00 152.20 L180.25 152.20 L180.50 152.20 L180.75 152.20 L181.00 152.20 L181.25 152.20 L181.50 152.20 L181.75 152.20 L182.00 152.19 L182.25 152.19 L182.50 152.19 L182.75 152.18 L183.00 152.17 L183.25 152.15 L183.50 152.13 L183.75 152.10 L184.00 152.05 L184.25 151.99 L184.50 151.90 L184.75 151.79 L185.00 151.65 L185.25 151.46 L185.50 151.22 L185.75 150.91 L186.00 150.54 L186.25 150.08 L186.50 149.52 L186.75 148.86 L187.00 148.07 L187.25 147.15 L187.50 146.10 L187.75 144.89 L188.00 143.52 L188.25 141.99 L188.50 140.28 L188.75 138.41 L189.00 136.37 L189.25 134.16 L189.50 131.80 L189.75 129.30 L190.00 126.67 L190.25 123.95 L190.50 121.17 L190.75 118.36 L191.00 115.58 L191.25 112.87 L191.50 110.29 L191.75 107.90 L192.00 105.76 L192.25 103.92 L192.50 102.45 L192.75 101.38 L193.00 100.75 L193.25 100.58 L193.50 100.90 L193.75 101.69 L194.00 102.94 L194.25 104.61 L194.50 106.67 L194.75 109.07 L195.00 111.73 L195.25 114.60 L195.50 117.61 L195.75 120.70 L196.00 123.79 L196.25 126.83 L196.50 129.77 L196.75 132.56 L197.00 135.18 L197.25 137.60 L197.50 139.79 L197.75 141.76 L198.00 143.51 L198.25 145.04 L198.50 146.35 L198.75 147.47 L199.00 148.42 L199.25 149.20 L199.50 149.85 L199.75 150.38 L200.00 150.80 L200.25 151.13 L200.50 151.40 L200.75 151.60 L201.00 151.76 L201.25 151.88 L201.50 151.97 L201.75 152.03 L202.00 152.08 L202.25 152.12 L202.50 152.14 L202.75 152.16 L203.00 152.17 L203.25 152.18 L203.50 152.19 L203.75 152.19 L204.00 152.19 L204.25 152.20 L204.50 152.20 L204.75 152.20 L205.00 152.20 L205.25 152.20 L205.50 152.20 L205.75 152.20 L206.00 152.20 L206.25 152.20 L206.50 152.20 L206.75 152.20 L207.00 152.20 L207.25 152.20 L207.50 152.20 L207.75 152.20 L208.00 152.20 L208.25 152.20 L208.50 152.20 L208.75 152.20 L209.00 152.20 L209.25 152.20 L209.50 152.20 L209.75 152.20 L210.00 152.20 L210.25 152.20 L210.50 152.20 L210.75 152.20 L211.00 152.20 L211.25 152.20 L211.50 152.20 L211.75 152.20 L212.00 152.20 L212.25 152.20 L212.50 152.20 L212.75 152.20 L213.00 152.20 L213.25 152.20 L213.50 152.20 L213.75 152.20 L214.00 152.20 L214.25 152.20 L214.50 152.20 L214.75 152.20 L215.00 152.20 L215.25 152.20 L215.50 152.20 L215.75 152.20 L216.00 152.20 L216.25 152.20 L216.50 152.20 L216.75 152.20 L217.00 152.20 L217.25 152.20 L217.50 152.20 L217.75 152.20 L218.00 152.20 L218.25 152.20 L218.50 152.20 L218.75 152.20 L219.00 152.20 L219.25 152.20 L219.50 152.20 L219.75 152.20 L220.00 152.20 L220.25 152.20 L220.50 152.20 L220.75 152.20 L221.00 152.20 L221.25 152.20 L221.50 152.20 L221.75 152.20 L222.00 152.20" fill="none" stroke="#555" stroke-width="1.0" stroke-dasharray="0.7 0.55" stroke-linejoin="round"/>
<line x1="196" y1="146.6" x2="223" y2="146.6" stroke="#222" stroke-width="1.2"/>
<line x1="196" y1="145.4" x2="196" y2="147.79999999999998" stroke="#222" stroke-width="0.6"/>
<line x1="223" y1="145.4" x2="223" y2="147.79999999999998" stroke="#222" stroke-width="0.6"/>
<text x="209.4" y="145.1" font-size="6.8" text-anchor="middle" font-weight="bold" fill="#111" stroke="#111" stroke-width="0.18">29</text>
<path d="M240.00 152.20 L240.50 152.20 L241.00 152.20 L241.50 152.20 L242.00 152.20 L242.50 152.20 L243.00 152.20 L243.50 152.20 L244.00 152.20 L244.50 152.20 L245.00 152.20 L245.50 152.20 L246.00 152.20 L246.50 152.19 L247.00 152.18 L247.50 152.15 L248.00 152.08 L248.50 151.92 L249.00 151.59 L249.50 150.95 L250.00 149.80 L250.50 147.85 L251.00 144.79 L251.50 140.35 L252.00 134.39 L252.50 127.03 L253.00 118.74 L253.50 110.31 L254.00 102.76 L254.50 97.50 L255.00 97.50 L255.50 97.50 L256.00 97.50 L256.50 99.03 L257.00 103.67 L257.50 108.65 L258.00 113.63 L258.50 118.52 L259.00 123.40 L259.50 128.29 L260.00 133.12 L260.50 137.68 L261.00 141.74 L261.50 145.10 L262.00 144.12 L262.50 146.89 L263.00 148.91 L263.50 148.92 L264.00 149.21 L264.50 148.77 L265.00 150.24 L265.50 150.04 L266.00 148.45 L266.50 148.94 L267.00 150.22 L267.50 149.82 L268.00 149.79 L268.50 149.08 L269.00 149.21 L269.50 148.70 L270.00 148.76 L270.50 149.43 L271.00 148.94 L271.50 148.93 L272.00 148.90 L272.50 149.52 L273.00 148.84 L273.50 149.00 L274.00 148.54 L274.50 150.22 L275.00 148.50 L275.50 150.17 L276.00 148.04 L276.50 147.54 L277.00 146.21 L277.50 146.58 L278.00 143.32 L278.50 139.31 L279.00 135.05 L279.50 131.28 L280.00 128.79 L280.50 128.17 L281.00 129.59 L281.50 132.68 L282.00 136.74 L282.50 140.98 L283.00 144.73 L283.50 147.64 L284.00 149.64 L284.50 150.89 L285.00 151.58 L285.50 151.93 L286.00 152.09 L286.50 152.16 L287.00 152.19 L287.50 152.20 L288.00 152.20 L288.50 152.20 L289.00 152.20 L289.50 152.20 L290.00 152.20 L290.50 152.20 L291.00 152.20 L291.50 152.20 L292.00 152.20 L292.50 152.20 L293.00 152.20 L293.50 152.20 L294.00 152.20 L294.50 152.20 L295.00 152.20" fill="none" stroke="#2e2e2e" stroke-width="0.8" stroke-linejoin="round"/>
<path d="M240.00 152.18 L240.25 152.17 L240.50 152.16 L240.75 152.15 L241.00 152.13 L241.25 152.10 L241.50 152.07 L241.75 152.02 L242.00 151.97 L242.25 151.90 L242.50 151.82 L242.75 151.71 L243.00 151.58 L243.25 151.43 L243.50 151.24 L243.75 151.02 L244.00 150.76 L244.25 150.45 L244.50 150.10 L244.75 149.69 L245.00 149.21 L245.25 148.68 L245.50 148.06 L245.75 147.37 L246.00 146.59 L246.25 145.71 L246.50 144.73 L246.75 143.63 L247.00 142.40 L247.25 141.03 L247.50 139.52 L247.75 137.84 L248.00 136.00 L248.25 133.99 L248.50 131.81 L248.75 129.46 L249.00 126.95 L249.25 124.31 L249.50 121.54 L249.75 118.70 L250.00 115.82 L250.25 112.95 L250.50 110.15 L250.75 107.47 L251.00 104.99 L251.25 102.76 L251.50 100.84 L251.75 99.30 L252.00 98.18 L252.25 97.53 L252.50 97.50 L252.75 97.69 L253.00 98.52 L253.25 99.82 L253.50 101.58 L253.75 103.74 L254.00 106.26 L254.25 109.06 L254.50 112.08 L254.75 115.25 L255.00 118.51 L255.25 121.78 L255.50 124.99 L255.75 128.11 L256.00 131.08 L256.25 133.87 L256.50 136.45 L256.75 138.79 L257.00 140.90 L257.25 142.78 L257.50 144.42 L257.75 145.84 L258.00 147.05 L258.25 148.07 L258.50 148.92 L258.75 149.62 L259.00 150.20 L259.25 150.66 L259.50 151.02 L259.75 151.31 L260.00 151.54 L260.25 151.71 L260.50 151.84 L260.75 151.94 L261.00 152.01 L261.25 152.07 L261.50 152.11 L261.75 152.13 L262.00 152.15 L262.25 152.17 L262.50 152.18 L262.75 152.19 L263.00 152.19 L263.25 152.19 L263.50 152.20 L263.75 152.20 L264.00 152.20 L264.25 152.20 L264.50 152.20 L264.75 152.20 L265.00 152.20 L265.25 152.20 L265.50 152.20 L265.75 152.20 L266.00 152.20 L266.25 152.20 L266.50 152.20 L266.75 152.20 L267.00 152.20 L267.25 152.20 L267.50 152.20 L267.75 152.20 L268.00 152.20 L268.25 152.20 L268.50 152.20 L268.75 152.20 L269.00 152.20 L269.25 152.20 L269.50 152.20 L269.75 152.20 L270.00 152.20 L270.25 152.20 L270.50 152.20 L270.75 152.20 L271.00 152.20 L271.25 152.20 L271.50 152.20 L271.75 152.20 L272.00 152.20 L272.25 152.20 L272.50 152.20 L272.75 152.20 L273.00 152.20 L273.25 152.20 L273.50 152.20 L273.75 152.20 L274.00 152.20 L274.25 152.20 L274.50 152.20 L274.75 152.20 L275.00 152.20 L275.25 152.20 L275.50 152.20 L275.75 152.20 L276.00 152.20 L276.25 152.20 L276.50 152.20 L276.75 152.20 L277.00 152.20 L277.25 152.20 L277.50 152.20 L277.75 152.20 L278.00 152.20 L278.25 152.20 L278.50 152.20 L278.75 152.20 L279.00 152.20 L279.25 152.20 L279.50 152.20 L279.75 152.20 L280.00 152.20 L280.25 152.20 L280.50 152.20 L280.75 152.20 L281.00 152.20 L281.25 152.20 L281.50 152.20 L281.75 152.20 L282.00 152.20 L282.25 152.20 L282.50 152.20 L282.75 152.20 L283.00 152.20 L283.25 152.20 L283.50 152.20 L283.75 152.20 L284.00 152.20 L284.25 152.20 L284.50 152.20 L284.75 152.20 L285.00 152.20 L285.25 152.20 L285.50 152.20 L285.75 152.20 L286.00 152.20 L286.25 152.20 L286.50 152.20 L286.75 152.20 L287.00 152.20 L287.25 152.20 L287.50 152.20 L287.75 152.20 L288.00 152.20 L288.25 152.20 L288.50 152.20 L288.75 152.20 L289.00 152.20 L289.25 152.20 L289.50 152.20 L289.75 152.20 L290.00 152.20 L290.25 152.20 L290.50 152.20 L290.75 152.20 L291.00 152.20 L291.25 152.20 L291.50 152.20 L291.75 152.20 L292.00 152.20 L292.25 152.20 L292.50 152.20 L292.75 152.20 L293.00 152.20 L293.25 152.20 L293.50 152.20 L293.75 152.20 L294.00 152.20 L294.25 152.20 L294.50 152.20 L294.75 152.20 L295.00 152.20" fill="none" stroke="#555" stroke-width="1.0" stroke-dasharray="0.7 0.55" stroke-linejoin="round"/>
<line x1="256" y1="146.2" x2="290" y2="146.2" stroke="#222" stroke-width="0.9"/>
<line x1="256" y1="145.0" x2="256" y2="147.39999999999998" stroke="#222" stroke-width="0.6"/>
<line x1="290" y1="145.0" x2="290" y2="147.39999999999998" stroke="#222" stroke-width="0.6"/>
<text x="272.5" y="144.7" font-size="6.1" text-anchor="middle" font-weight="bold" fill="#111" stroke="#111" stroke-width="0.18">53.3</text>
<path d="M293.00 152.20 L293.25 152.20 L293.50 152.20 L293.75 152.20 L294.00 152.20 L294.25 152.20 L294.50 152.20 L294.75 152.20 L295.00 152.20 L295.25 152.20 L295.50 152.20 L295.75 152.20 L296.00 152.20 L296.25 152.19 L296.50 152.19 L296.75 152.18 L297.00 152.17 L297.25 152.16 L297.50 152.13 L297.75 152.09 L298.00 152.03 L298.25 151.94 L298.50 151.82 L298.75 151.64 L299.00 151.38 L299.25 151.04 L299.50 150.57 L299.75 149.94 L300.00 149.13 L300.25 148.09 L300.50 146.78 L300.75 145.16 L301.00 143.20 L301.25 140.88 L301.50 138.18 L301.75 135.10 L302.00 131.67 L302.25 127.93 L302.50 123.96 L302.75 119.85 L303.00 115.72 L303.25 111.69 L303.50 107.92 L303.75 104.54 L304.00 101.71 L304.25 99.53 L304.50 98.11 L304.75 97.52 L305.00 97.77 L305.25 98.87 L305.50 100.75 L305.75 103.34 L306.00 106.51 L306.25 110.14 L306.50 114.08 L306.75 118.19 L307.00 122.33 L307.25 126.37 L307.50 130.21 L307.75 133.77 L308.00 136.99 L308.25 139.85 L308.50 142.32 L308.75 144.42 L309.00 146.17 L309.25 147.60 L309.50 148.74 L309.75 149.64 L310.00 150.34 L310.25 150.86 L310.50 151.26 L310.75 151.55 L311.00 151.75 L311.25 151.90 L311.50 152.00 L311.75 152.07 L312.00 152.12 L312.25 152.15 L312.50 152.17 L312.75 152.18 L313.00 152.19 L313.25 152.19 L313.50 152.20 L313.75 152.20 L314.00 152.20 L314.25 152.20 L314.50 152.20 L314.75 152.20 L315.00 152.20 L315.25 152.20 L315.50 152.20 L315.75 152.20 L316.00 152.20 L316.25 152.20 L316.50 152.20 L316.75 152.20 L317.00 152.20 L317.25 152.20 L317.50 152.20 L317.75 152.20 L318.00 152.20 L318.25 152.20 L318.50 152.20 L318.75 152.20 L319.00 152.20 L319.25 152.20 L319.50 152.20 L319.75 152.20 L320.00 152.20 L320.25 152.20 L320.50 152.20 L320.75 152.20 L321.00 152.20 L321.25 152.20 L321.50 152.20 L321.75 152.20 L322.00 152.20 L322.25 152.20 L322.50 152.20 L322.75 152.20 L323.00 152.20 L323.25 152.20 L323.50 152.20 L323.75 152.20 L324.00 152.20 L324.25 152.20 L324.50 152.20 L324.75 152.20 L325.00 152.20 L325.25 152.20 L325.50 152.20 L325.75 152.20 L326.00 152.20 L326.25 152.20 L326.50 152.20 L326.75 152.20 L327.00 152.20 L327.25 152.20 L327.50 152.20 L327.75 152.20 L328.00 152.20 L328.25 152.20 L328.50 152.20 L328.75 152.20 L329.00 152.20 L329.25 152.20 L329.50 152.20 L329.75 152.20 L330.00 152.20 L330.25 152.20 L330.50 152.20 L330.75 152.20 L331.00 152.20 L331.25 152.20 L331.50 152.20 L331.75 152.20 L332.00 152.20 L332.25 152.20 L332.50 152.20 L332.75 152.20 L333.00 152.20 L333.25 152.20 L333.50 152.20 L333.75 152.20 L334.00 152.20 L334.25 152.20 L334.50 152.20 L334.75 152.20 L335.00 152.20" fill="none" stroke="#2e2e2e" stroke-width="0.8" stroke-linejoin="round"/>
<path d="M293.00 152.20 L293.25 152.20 L293.50 152.20 L293.75 152.20 L294.00 152.19 L294.25 152.19 L294.50 152.19 L294.75 152.18 L295.00 152.17 L295.25 152.15 L295.50 152.12 L295.75 152.09 L296.00 152.03 L296.25 151.96 L296.50 151.86 L296.75 151.73 L297.00 151.54 L297.25 151.30 L297.50 150.98 L297.75 150.57 L298.00 150.04 L298.25 149.37 L298.50 148.55 L298.75 147.53 L299.00 146.31 L299.25 144.86 L299.50 143.15 L299.75 141.17 L300.00 138.93 L300.25 136.41 L300.50 133.64 L300.75 130.63 L301.00 127.43 L301.25 124.09 L301.50 120.68 L301.75 117.27 L302.00 113.94 L302.25 110.79 L302.50 107.91 L302.75 105.38 L303.00 103.29 L303.25 101.70 L303.50 100.68 L303.75 100.25 L304.00 100.43 L304.25 101.22 L304.50 102.59 L304.75 104.48 L305.00 106.85 L305.25 109.60 L305.50 112.66 L305.75 115.92 L306.00 119.31 L306.25 122.73 L306.50 126.11 L306.75 129.37 L307.00 132.46 L307.25 135.33 L307.50 137.95 L307.75 140.31 L308.00 142.39 L308.25 144.20 L308.50 145.76 L308.75 147.07 L309.00 148.17 L309.25 149.06 L309.50 149.79 L309.75 150.37 L310.00 150.83 L310.25 151.18 L310.50 151.45 L310.75 151.66 L311.00 151.81 L311.25 151.93 L311.50 152.01 L311.75 152.07 L312.00 152.11 L312.25 152.14 L312.50 152.16 L312.75 152.17 L313.00 152.18 L313.25 152.19 L313.50 152.19 L313.75 152.20 L314.00 152.20 L314.25 152.20 L314.50 152.20 L314.75 152.20 L315.00 152.20 L315.25 152.20 L315.50 152.20 L315.75 152.20 L316.00 152.20 L316.25 152.20 L316.50 152.20 L316.75 152.20 L317.00 152.20 L317.25 152.20 L317.50 152.20 L317.75 152.20 L318.00 152.20 L318.25 152.20 L318.50 152.20 L318.75 152.20 L319.00 152.20 L319.25 152.20 L319.50 152.20 L319.75 152.20 L320.00 152.20 L320.25 152.20 L320.50 152.20 L320.75 152.20 L321.00 152.20 L321.25 152.20 L321.50 152.20 L321.75 152.20 L322.00 152.20 L322.25 152.20 L322.50 152.20 L322.75 152.20 L323.00 152.20 L323.25 152.20 L323.50 152.20 L323.75 152.20 L324.00 152.20 L324.25 152.20 L324.50 152.20 L324.75 152.20 L325.00 152.20 L325.25 152.20 L325.50 152.20 L325.75 152.20 L326.00 152.20 L326.25 152.20 L326.50 152.20 L326.75 152.20 L327.00 152.20 L327.25 152.20 L327.50 152.20 L327.75 152.20 L328.00 152.20 L328.25 152.20 L328.50 152.20 L328.75 152.20 L329.00 152.20 L329.25 152.20 L329.50 152.20 L329.75 152.20 L330.00 152.20 L330.25 152.20 L330.50 152.20 L330.75 152.20 L331.00 152.20 L331.25 152.20 L331.50 152.20 L331.75 152.20 L332.00 152.20 L332.25 152.20 L332.50 152.20 L332.75 152.20 L333.00 152.20 L333.25 152.20 L333.50 152.20 L333.75 152.20 L334.00 152.20 L334.25 152.20 L334.50 152.20 L334.75 152.20 L335.00 152.20" fill="none" stroke="#555" stroke-width="1.0" stroke-dasharray="0.7 0.55" stroke-linejoin="round"/>
<line x1="307.5" y1="147.3" x2="330.5" y2="147.3" stroke="#222" stroke-width="0.9"/>
<line x1="307.5" y1="146.10000000000002" x2="307.5" y2="148.5" stroke="#222" stroke-width="0.6"/>
<line x1="330.5" y1="146.10000000000002" x2="330.5" y2="148.5" stroke="#222" stroke-width="0.6"/>
<text x="318.7" y="145.8" font-size="6.1" text-anchor="middle" font-weight="bold" fill="#111" stroke="#111" stroke-width="0.18">15.4</text>
<path d="M183.00 225.60 L183.25 225.60 L183.50 225.60 L183.75 225.60 L184.00 225.60 L184.25 225.60 L184.50 225.60 L184.75 225.60 L185.00 225.60 L185.25 225.60 L185.50 225.60 L185.75 225.60 L186.00 225.60 L186.25 225.60 L186.50 225.60 L186.75 225.59 L187.00 225.58 L187.25 225.57 L187.50 225.55 L187.75 225.53 L188.00 225.48 L188.25 225.41 L188.50 225.30 L188.75 225.16 L189.00 224.95 L189.25 224.67 L189.50 224.30 L189.75 223.83 L190.00 223.24 L190.25 222.53 L190.50 221.71 L190.75 220.79 L191.00 219.80 L191.25 218.77 L191.50 217.75 L191.75 216.80 L192.00 215.96 L192.25 215.31 L192.50 214.87 L192.75 214.69 L193.00 214.76 L193.25 215.10 L193.50 215.68 L193.75 216.44 L194.00 217.36 L194.25 218.35 L194.50 219.38 L194.75 220.38 L195.00 221.31 L195.25 222.13 L195.50 222.81 L195.75 223.30 L196.00 223.58 L196.25 223.60 L196.50 223.29 L196.75 222.57 L197.00 221.34 L197.25 219.49 L197.50 216.91 L197.75 213.51 L198.00 209.26 L198.25 204.22 L198.50 198.53 L198.75 192.47 L199.00 186.42 L199.25 180.81 L199.50 176.13 L199.75 172.80 L200.00 171.15 L200.25 171.34 L200.50 173.34 L200.75 176.98 L201.00 181.88 L201.25 187.61 L201.50 193.71 L201.75 199.73 L202.00 205.32 L202.25 210.24 L202.50 214.36 L202.75 217.65 L203.00 220.17 L203.25 222.01 L203.50 223.31 L203.75 224.19 L204.00 224.76 L204.25 225.12 L204.50 225.33 L204.75 225.46 L205.00 225.52 L205.25 225.56 L205.50 225.58 L205.75 225.59 L206.00 225.60 L206.25 225.60 L206.50 225.60 L206.75 225.60 L207.00 225.60 L207.25 225.60 L207.50 225.60 L207.75 225.60 L208.00 225.60 L208.25 225.60 L208.50 225.60 L208.75 225.60 L209.00 225.60 L209.25 225.60 L209.50 225.60 L209.75 225.60 L210.00 225.60 L210.25 225.60 L210.50 225.60 L210.75 225.60 L211.00 225.60 L211.25 225.60 L211.50 225.60 L211.75 225.60 L212.00 225.60 L212.25 225.60 L212.50 225.60 L212.75 225.60 L213.00 225.60 L213.25 225.60 L213.50 225.60 L213.75 225.60 L214.00 225.60 L214.25 225.60 L214.50 225.60 L214.75 225.60 L215.00 225.60 L215.25 225.60 L215.50 225.60 L215.75 225.60 L216.00 225.60 L216.25 225.60 L216.50 225.60 L216.75 225.60 L217.00 225.60 L217.25 225.60 L217.50 225.60 L217.75 225.60 L218.00 225.60 L218.25 225.60 L218.50 225.60 L218.75 225.60 L219.00 225.60 L219.25 225.60 L219.50 225.60 L219.75 225.60 L220.00 225.60 L220.25 225.60 L220.50 225.60 L220.75 225.60 L221.00 225.60 L221.25 225.60 L221.50 225.60 L221.75 225.60 L222.00 225.60 L222.25 225.60 L222.50 225.60 L222.75 225.60 L223.00 225.60 L223.25 225.60 L223.50 225.60 L223.75 225.60 L224.00 225.60" fill="none" stroke="#2e2e2e" stroke-width="0.8" stroke-linejoin="round"/>
<path d="M183.00 225.60 L183.25 225.60 L183.50 225.60 L183.75 225.60 L184.00 225.60 L184.25 225.60 L184.50 225.60 L184.75 225.60 L185.00 225.59 L185.25 225.58 L185.50 225.57 L185.75 225.54 L186.00 225.50 L186.25 225.42 L186.50 225.28 L186.75 225.07 L187.00 224.73 L187.25 224.22 L187.50 223.46 L187.75 222.38 L188.00 220.89 L188.25 218.90 L188.50 216.32 L188.75 213.11 L189.00 209.25 L189.25 204.78 L189.50 199.82 L189.75 194.55 L190.00 189.22 L190.25 184.15 L190.50 179.66 L190.75 176.08 L191.00 173.69 L191.25 172.67 L191.50 173.11 L191.75 174.97 L192.00 178.10 L192.25 182.26 L192.50 187.14 L192.75 192.41 L193.00 197.74 L193.25 202.85 L193.50 207.53 L193.75 211.65 L194.00 215.12 L194.25 217.94 L194.50 220.16 L194.75 221.84 L195.00 223.07 L195.25 223.95 L195.50 224.55 L195.75 224.95 L196.00 225.21 L196.25 225.37 L196.50 225.47 L196.75 225.53 L197.00 225.56 L197.25 225.58 L197.50 225.59 L197.75 225.59 L198.00 225.60 L198.25 225.60 L198.50 225.60 L198.75 225.60 L199.00 225.60 L199.25 225.60 L199.50 225.60 L199.75 225.60 L200.00 225.60 L200.25 225.60 L200.50 225.60 L200.75 225.60 L201.00 225.60 L201.25 225.60 L201.50 225.60 L201.75 225.60 L202.00 225.60 L202.25 225.60 L202.50 225.60 L202.75 225.60 L203.00 225.60 L203.25 225.60 L203.50 225.60 L203.75 225.60 L204.00 225.60 L204.25 225.60 L204.50 225.60 L204.75 225.60 L205.00 225.60 L205.25 225.60 L205.50 225.60 L205.75 225.60 L206.00 225.60 L206.25 225.60 L206.50 225.60 L206.75 225.60 L207.00 225.60 L207.25 225.60 L207.50 225.60 L207.75 225.60 L208.00 225.60 L208.25 225.60 L208.50 225.60 L208.75 225.60 L209.00 225.60 L209.25 225.60 L209.50 225.60 L209.75 225.60 L210.00 225.60 L210.25 225.60 L210.50 225.60 L210.75 225.60 L211.00 225.60 L211.25 225.60 L211.50 225.60 L211.75 225.60 L212.00 225.60 L212.25 225.60 L212.50 225.60 L212.75 225.60 L213.00 225.60 L213.25 225.60 L213.50 225.60 L213.75 225.60 L214.00 225.60 L214.25 225.60 L214.50 225.60 L214.75 225.60 L215.00 225.60 L215.25 225.60 L215.50 225.60 L215.75 225.60 L216.00 225.60 L216.25 225.60 L216.50 225.60 L216.75 225.60 L217.00 225.60 L217.25 225.60 L217.50 225.60 L217.75 225.60 L218.00 225.60 L218.25 225.60 L218.50 225.60 L218.75 225.60 L219.00 225.60 L219.25 225.60 L219.50 225.60 L219.75 225.60 L220.00 225.60 L220.25 225.60 L220.50 225.60 L220.75 225.60 L221.00 225.60 L221.25 225.60 L221.50 225.60 L221.75 225.60 L222.00 225.60 L222.25 225.60 L222.50 225.60 L222.75 225.60 L223.00 225.60 L223.25 225.60 L223.50 225.60 L223.75 225.60 L224.00 225.60" fill="none" stroke="#777" stroke-width="1.0" stroke-dasharray="0.7 0.55" stroke-linejoin="round"/>
<line x1="196" y1="220.8" x2="224" y2="220.8" stroke="#222" stroke-width="0.9"/>
<line x1="196" y1="219.60000000000002" x2="196" y2="222.0" stroke="#222" stroke-width="0.6"/>
<line x1="224" y1="219.60000000000002" x2="224" y2="222.0" stroke="#222" stroke-width="0.6"/>
<text x="210" y="219.3" font-size="6.1" text-anchor="middle" font-weight="bold" fill="#111" stroke="#111" stroke-width="0.18">81.5</text>
<path d="M243.00 225.60 L243.25 225.60 L243.50 225.60 L243.75 225.60 L244.00 225.60 L244.25 225.60 L244.50 225.60 L244.75 225.60 L245.00 225.60 L245.25 225.60 L245.50 225.60 L245.75 225.60 L246.00 225.59 L246.25 225.59 L246.50 225.58 L246.75 225.57 L247.00 225.55 L247.25 225.52 L247.50 225.47 L247.75 225.41 L248.00 225.32 L248.25 225.20 L248.50 225.03 L248.75 224.82 L249.00 224.54 L249.25 224.19 L249.50 223.77 L249.75 223.26 L250.00 222.67 L250.25 222.00 L250.50 221.26 L250.75 220.46 L251.00 219.64 L251.25 218.82 L251.50 218.03 L251.75 217.31 L252.00 216.70 L252.25 216.22 L252.50 215.91 L252.75 215.78 L253.00 215.83 L253.25 216.07 L253.50 216.49 L253.75 217.05 L254.00 217.73 L254.25 218.50 L254.50 219.31 L254.75 220.13 L255.00 220.94 L255.25 221.71 L255.50 222.41 L255.75 223.03 L256.00 223.58 L256.25 224.03 L256.50 224.41 L256.75 224.72 L257.00 224.95 L257.25 225.14 L257.50 225.27 L257.75 225.38 L258.00 225.45 L258.25 225.50 L258.50 225.53 L258.75 225.56 L259.00 225.57 L259.25 225.58 L259.50 225.59 L259.75 225.59 L260.00 225.60 L260.25 225.60 L260.50 225.60 L260.75 225.60 L261.00 225.60 L261.25 225.60 L261.50 225.60 L261.75 225.60 L262.00 225.60 L262.25 225.60 L262.50 225.60 L262.75 225.60 L263.00 225.60 L263.25 225.60 L263.50 225.60 L263.75 225.60 L264.00 225.60 L264.25 225.60 L264.50 225.60 L264.75 225.60 L265.00 225.60 L265.25 225.60 L265.50 225.60 L265.75 225.60 L266.00 225.60 L266.25 225.60 L266.50 225.60 L266.75 225.60 L267.00 225.60 L267.25 225.60 L267.50 225.60 L267.75 225.60 L268.00 225.60 L268.25 225.60 L268.50 225.60 L268.75 225.60 L269.00 225.60 L269.25 225.60 L269.50 225.60 L269.75 225.60 L270.00 225.60 L270.25 225.60 L270.50 225.60 L270.75 225.60 L271.00 225.60 L271.25 225.60 L271.50 225.60 L271.75 225.60 L272.00 225.60 L272.25 225.60 L272.50 225.60 L272.75 225.60 L273.00 225.60 L273.25 225.60 L273.50 225.60 L273.75 225.60 L274.00 225.60 L274.25 225.60 L274.50 225.60 L274.75 225.60 L275.00 225.60 L275.25 225.60 L275.50 225.60 L275.75 225.60 L276.00 225.60 L276.25 225.60 L276.50 225.60 L276.75 225.60 L277.00 225.60 L277.25 225.59 L277.50 225.59 L277.75 225.57 L278.00 225.55 L278.25 225.51 L278.50 225.45 L278.75 225.35 L279.00 225.19 L279.25 224.93 L279.50 224.55 L279.75 224.00 L280.00 223.20 L280.25 222.10 L280.50 220.61 L280.75 218.66 L281.00 216.19 L281.25 213.13 L281.50 209.49 L281.75 205.29 L282.00 200.60 L282.25 195.58 L282.50 190.42 L282.75 185.36 L283.00 180.69 L283.25 176.68 L283.50 173.60 L283.75 171.66 L284.00 171.00 L284.25 171.66 L284.50 173.60 L284.75 176.68 L285.00 180.69 L285.25 185.36 L285.50 190.42 L285.75 195.58 L286.00 200.60 L286.25 205.29 L286.50 209.49 L286.75 213.13 L287.00 216.19 L287.25 218.66 L287.50 220.61 L287.75 222.10 L288.00 223.20 L288.25 224.00 L288.50 224.55 L288.75 224.93 L289.00 225.19 L289.25 225.35 L289.50 225.45 L289.75 225.51 L290.00 225.55 L290.25 225.57 L290.50 225.59 L290.75 225.59 L291.00 225.60 L291.25 225.60 L291.50 225.60 L291.75 225.60 L292.00 225.60 L292.25 225.60 L292.50 225.60 L292.75 225.60 L293.00 225.60 L293.25 225.60 L293.50 225.60 L293.75 225.60 L294.00 225.60 L294.25 225.60 L294.50 225.60 L294.75 225.60 L295.00 225.60" fill="none" stroke="#2e2e2e" stroke-width="0.8" stroke-linejoin="round"/>
<path d="M243.00 225.60 L243.25 225.60 L243.50 225.60 L243.75 225.60 L244.00 225.60 L244.25 225.60 L244.50 225.60 L244.75 225.60 L245.00 225.59 L245.25 225.59 L245.50 225.58 L245.75 225.56 L246.00 225.54 L246.25 225.49 L246.50 225.43 L246.75 225.33 L247.00 225.18 L247.25 224.96 L247.50 224.64 L247.75 224.20 L248.00 223.58 L248.25 222.74 L248.50 221.64 L248.75 220.22 L249.00 218.43 L249.25 216.23 L249.50 213.58 L249.75 210.48 L250.00 206.94 L250.25 203.01 L250.50 198.78 L250.75 194.37 L251.00 189.92 L251.25 185.62 L251.50 181.66 L251.75 178.23 L252.00 175.50 L252.25 173.63 L252.50 172.72 L252.75 172.82 L253.00 173.93 L253.25 175.98 L253.50 178.86 L253.75 182.42 L254.00 186.46 L254.25 190.81 L254.50 195.26 L254.75 199.65 L255.00 203.83 L255.25 207.68 L255.50 211.13 L255.75 214.15 L256.00 216.70 L256.25 218.82 L256.50 220.54 L256.75 221.89 L257.00 222.93 L257.25 223.72 L257.50 224.30 L257.75 224.72 L258.00 225.01 L258.25 225.22 L258.50 225.35 L258.75 225.45 L259.00 225.50 L259.25 225.54 L259.50 225.57 L259.75 225.58 L260.00 225.59 L260.25 225.59 L260.50 225.60 L260.75 225.60 L261.00 225.60 L261.25 225.60 L261.50 225.60 L261.75 225.60 L262.00 225.60 L262.25 225.60 L262.50 225.60 L262.75 225.60 L263.00 225.60 L263.25 225.60 L263.50 225.60 L263.75 225.60 L264.00 225.60 L264.25 225.60 L264.50 225.60 L264.75 225.60 L265.00 225.60 L265.25 225.60 L265.50 225.60 L265.75 225.60 L266.00 225.60 L266.25 225.60 L266.50 225.60 L266.75 225.60 L267.00 225.60 L267.25 225.60 L267.50 225.60 L267.75 225.60 L268.00 225.60 L268.25 225.60 L268.50 225.60 L268.75 225.60 L269.00 225.60 L269.25 225.60 L269.50 225.60 L269.75 225.60 L270.00 225.60 L270.25 225.60 L270.50 225.60 L270.75 225.60 L271.00 225.60 L271.25 225.60 L271.50 225.60 L271.75 225.60 L272.00 225.60 L272.25 225.60 L272.50 225.60 L272.75 225.60 L273.00 225.60 L273.25 225.60 L273.50 225.60 L273.75 225.60 L274.00 225.60 L274.25 225.60 L274.50 225.60 L274.75 225.60 L275.00 225.60 L275.25 225.60 L275.50 225.60 L275.75 225.60 L276.00 225.60 L276.25 225.60 L276.50 225.60 L276.75 225.60 L277.00 225.60 L277.25 225.60 L277.50 225.60 L277.75 225.60 L278.00 225.60 L278.25 225.60 L278.50 225.60 L278.75 225.60 L279.00 225.60 L279.25 225.60 L279.50 225.60 L279.75 225.60 L280.00 225.60 L280.25 225.60 L280.50 225.60 L280.75 225.60 L281.00 225.60 L281.25 225.60 L281.50 225.60 L281.75 225.60 L282.00 225.60 L282.25 225.60 L282.50 225.60 L282.75 225.60 L283.00 225.60 L283.25 225.60 L283.50 225.60 L283.75 225.60 L284.00 225.60 L284.25 225.60 L284.50 225.60 L284.75 225.60 L285.00 225.60 L285.25 225.60 L285.50 225.60 L285.75 225.60 L286.00 225.60 L286.25 225.60 L286.50 225.60 L286.75 225.60 L287.00 225.60 L287.25 225.60 L287.50 225.60 L287.75 225.60 L288.00 225.60 L288.25 225.60 L288.50 225.60 L288.75 225.60 L289.00 225.60 L289.25 225.60 L289.50 225.60 L289.75 225.60 L290.00 225.60 L290.25 225.60 L290.50 225.60 L290.75 225.60 L291.00 225.60 L291.25 225.60 L291.50 225.60 L291.75 225.60 L292.00 225.60 L292.25 225.60 L292.50 225.60 L292.75 225.60 L293.00 225.60 L293.25 225.60 L293.50 225.60 L293.75 225.60 L294.00 225.60 L294.25 225.60 L294.50 225.60 L294.75 225.60 L295.00 225.60" fill="none" stroke="#777" stroke-width="1.0" stroke-dasharray="0.7 0.55" stroke-linejoin="round"/>
<line x1="256" y1="219.9" x2="289" y2="219.9" stroke="#222" stroke-width="0.9"/>
<line x1="256" y1="218.70000000000002" x2="256" y2="221.1" stroke="#222" stroke-width="0.6"/>
<line x1="289" y1="218.70000000000002" x2="289" y2="221.1" stroke="#222" stroke-width="0.6"/>
<text x="272.5" y="218.4" font-size="6.1" text-anchor="middle" font-weight="bold" fill="#111" stroke="#111" stroke-width="0.18">82.3</text>
<path d="M293.00 225.60 L293.25 225.60 L293.50 225.60 L293.75 225.60 L294.00 225.60 L294.25 225.60 L294.50 225.60 L294.75 225.60 L295.00 225.60 L295.25 225.60 L295.50 225.60 L295.75 225.60 L296.00 225.60 L296.25 225.60 L296.50 225.59 L296.75 225.59 L297.00 225.58 L297.25 225.57 L297.50 225.56 L297.75 225.53 L298.00 225.48 L298.25 225.42 L298.50 225.32 L298.75 225.17 L299.00 224.97 L299.25 224.68 L299.50 224.28 L299.75 223.75 L300.00 223.06 L300.25 222.17 L300.50 221.06 L300.75 219.71 L301.00 218.11 L301.25 216.25 L301.50 214.14 L301.75 211.83 L302.00 209.37 L302.25 206.83 L302.50 204.30 L302.75 201.87 L303.00 199.65 L303.25 197.73 L303.50 196.19 L303.75 195.08 L304.00 194.42 L304.25 194.18 L304.50 194.31 L304.75 194.70 L305.00 195.24 L305.25 195.77 L305.50 196.13 L305.75 196.18 L306.00 195.79 L306.25 194.86 L306.50 193.34 L306.75 191.25 L307.00 188.66 L307.25 185.68 L307.50 182.48 L307.75 179.27 L308.00 176.27 L308.25 173.69 L308.50 171.75 L308.75 171.00 L309.00 171.00 L309.25 171.10 L309.50 172.78 L309.75 175.36 L310.00 178.69 L310.25 182.63 L310.50 186.97 L310.75 191.54 L311.00 196.13 L311.25 200.59 L311.50 204.78 L311.75 208.60 L312.00 211.98 L312.25 214.90 L312.50 217.35 L312.75 219.37 L313.00 220.98 L313.25 222.24 L313.50 223.20 L313.75 223.92 L314.00 224.45 L314.25 224.82 L314.50 225.09 L314.75 225.27 L315.00 225.39 L315.25 225.47 L315.50 225.52 L315.75 225.55 L316.00 225.57 L316.25 225.58 L316.50 225.59 L316.75 225.59 L317.00 225.60 L317.25 225.60 L317.50 225.60 L317.75 225.60 L318.00 225.60 L318.25 225.60 L318.50 225.60 L318.75 225.60 L319.00 225.60 L319.25 225.60 L319.50 225.60 L319.75 225.60 L320.00 225.60 L320.25 225.60 L320.50 225.60 L320.75 225.60 L321.00 225.60 L321.25 225.60 L321.50 225.60 L321.75 225.60 L322.00 225.60 L322.25 225.60 L322.50 225.60 L322.75 225.60 L323.00 225.60 L323.25 225.60 L323.50 225.60 L323.75 225.60 L324.00 225.60 L324.25 225.60 L324.50 225.60 L324.75 225.60 L325.00 225.60 L325.25 225.60 L325.50 225.60 L325.75 225.60 L326.00 225.60 L326.25 225.60 L326.50 225.60 L326.75 225.60 L327.00 225.60 L327.25 225.60 L327.50 225.60 L327.75 225.60 L328.00 225.60 L328.25 225.60 L328.50 225.60 L328.75 225.60 L329.00 225.60 L329.25 225.60 L329.50 225.60 L329.75 225.60 L330.00 225.60 L330.25 225.60 L330.50 225.60 L330.75 225.60 L331.00 225.60 L331.25 225.60 L331.50 225.60 L331.75 225.60 L332.00 225.60 L332.25 225.60 L332.50 225.60 L332.75 225.60 L333.00 225.60 L333.25 225.60 L333.50 225.60 L333.75 225.60 L334.00 225.60 L334.25 225.60 L334.50 225.60 L334.75 225.60 L335.00 225.60 L335.25 225.60 L335.50 225.60 L335.75 225.60 L336.00 225.60 L336.25 225.60 L336.50 225.60 L336.75 225.60 L337.00 225.60 L337.25 225.60 L337.50 225.60 L337.75 225.60 L338.00 225.60 L338.25 225.60 L338.50 225.60 L338.75 225.60 L339.00 225.60 L339.25 225.60 L339.50 225.60 L339.75 225.60 L340.00 225.60" fill="none" stroke="#2e2e2e" stroke-width="0.8" stroke-linejoin="round"/>
<path d="M293.00 225.60 L293.25 225.60 L293.50 225.60 L293.75 225.60 L294.00 225.60 L294.25 225.60 L294.50 225.60 L294.75 225.60 L295.00 225.60 L295.25 225.60 L295.50 225.60 L295.75 225.60 L296.00 225.59 L296.25 225.59 L296.50 225.58 L296.75 225.56 L297.00 225.54 L297.25 225.50 L297.50 225.45 L297.75 225.36 L298.00 225.24 L298.25 225.06 L298.50 224.80 L298.75 224.44 L299.00 223.94 L299.25 223.27 L299.50 222.39 L299.75 221.26 L300.00 219.83 L300.25 218.05 L300.50 215.89 L300.75 213.34 L301.00 210.37 L301.25 207.02 L301.50 203.31 L301.75 199.33 L302.00 195.17 L302.25 190.95 L302.50 186.82 L302.75 182.94 L303.00 179.49 L303.25 176.61 L303.50 174.44 L303.75 173.09 L304.00 172.64 L304.25 173.09 L304.50 174.44 L304.75 176.61 L305.00 179.49 L305.25 182.94 L305.50 186.82 L305.75 190.95 L306.00 195.17 L306.25 199.33 L306.50 203.31 L306.75 207.02 L307.00 210.37 L307.25 213.34 L307.50 215.89 L307.75 218.05 L308.00 219.83 L308.25 221.26 L308.50 222.39 L308.75 223.27 L309.00 223.94 L309.25 224.44 L309.50 224.80 L309.75 225.06 L310.00 225.24 L310.25 225.36 L310.50 225.45 L310.75 225.50 L311.00 225.54 L311.25 225.56 L311.50 225.58 L311.75 225.59 L312.00 225.59 L312.25 225.60 L312.50 225.60 L312.75 225.60 L313.00 225.60 L313.25 225.60 L313.50 225.60 L313.75 225.60 L314.00 225.60 L314.25 225.60 L314.50 225.60 L314.75 225.60 L315.00 225.60 L315.25 225.60 L315.50 225.60 L315.75 225.60 L316.00 225.60 L316.25 225.60 L316.50 225.60 L316.75 225.60 L317.00 225.60 L317.25 225.60 L317.50 225.60 L317.75 225.60 L318.00 225.60 L318.25 225.60 L318.50 225.60 L318.75 225.60 L319.00 225.60 L319.25 225.60 L319.50 225.60 L319.75 225.60 L320.00 225.60 L320.25 225.60 L320.50 225.60 L320.75 225.60 L321.00 225.60 L321.25 225.60 L321.50 225.60 L321.75 225.60 L322.00 225.60 L322.25 225.60 L322.50 225.60 L322.75 225.60 L323.00 225.60 L323.25 225.60 L323.50 225.60 L323.75 225.60 L324.00 225.60 L324.25 225.60 L324.50 225.60 L324.75 225.60 L325.00 225.60 L325.25 225.60 L325.50 225.60 L325.75 225.60 L326.00 225.60 L326.25 225.60 L326.50 225.60 L326.75 225.60 L327.00 225.60 L327.25 225.60 L327.50 225.60 L327.75 225.60 L328.00 225.60 L328.25 225.60 L328.50 225.60 L328.75 225.60 L329.00 225.60 L329.25 225.60 L329.50 225.60 L329.75 225.60 L330.00 225.60 L330.25 225.60 L330.50 225.60 L330.75 225.60 L331.00 225.60 L331.25 225.60 L331.50 225.60 L331.75 225.60 L332.00 225.60 L332.25 225.60 L332.50 225.60 L332.75 225.60 L333.00 225.60 L333.25 225.60 L333.50 225.60 L333.75 225.60 L334.00 225.60 L334.25 225.60 L334.50 225.60 L334.75 225.60 L335.00 225.60 L335.25 225.60 L335.50 225.60 L335.75 225.60 L336.00 225.60 L336.25 225.60 L336.50 225.60 L336.75 225.60 L337.00 225.60 L337.25 225.60 L337.50 225.60 L337.75 225.60 L338.00 225.60 L338.25 225.60 L338.50 225.60 L338.75 225.60 L339.00 225.60 L339.25 225.60 L339.50 225.60 L339.75 225.60 L340.00 225.60" fill="none" stroke="#777" stroke-width="1.0" stroke-dasharray="0.7 0.55" stroke-linejoin="round"/>
<line x1="306" y1="220.8" x2="341" y2="220.8" stroke="#222" stroke-width="0.9"/>
<line x1="306" y1="219.60000000000002" x2="306" y2="222.0" stroke="#222" stroke-width="0.6"/>
<line x1="341" y1="219.60000000000002" x2="341" y2="222.0" stroke="#222" stroke-width="0.6"/>
<text x="323.5" y="219.3" font-size="6.1" text-anchor="middle" font-weight="bold" fill="#111" stroke="#111" stroke-width="0.18">60.1</text>
<rect x="342" y="9.8" width="96.3" height="23.6" fill="#fff" stroke="#111" stroke-width="1.5"/>
<rect x="349" y="17.0" width="6.5" height="2.0" fill="#111"/>
<rect x="349" y="24.4" width="2.4" height="2.0" fill="#111"/><rect x="353" y="24.4" width="2.4" height="2.0" fill="#111"/>
<text x="361" y="19.9" font-size="8.6" text-anchor="start" font-weight="bold" fill="#000" textLength="34.8" lengthAdjust="spacingAndGlyphs">iNKT Cells</text>
<text x="361" y="28.7" font-size="8.6" text-anchor="start" font-weight="bold" fill="#000" textLength="73" lengthAdjust="spacingAndGlyphs">Conventional T Cells</text>
<text x="370.1" y="77.0" font-size="12.6" text-anchor="start" font-weight="bold" fill="#000">C</text>
<text x="435" y="73.6" font-size="6.7" text-anchor="end" font-weight="bold" fill="#111" stroke="#111" stroke-width="0.18">controls</text>
<text x="435" y="84.4" font-size="6.7" text-anchor="end" font-weight="bold" fill="#111" stroke="#111" stroke-width="0.18">steady state</text>
<text x="435" y="93.7" font-size="6.7" text-anchor="end" font-weight="bold" fill="#111" stroke="#111" stroke-width="0.18">pVOC</text>
<rect x="441.2" y="68.5" width="7.4" height="6.9" fill="#fff" stroke="#222" stroke-width="1.05"/>
<rect x="441.2" y="78.8" width="7.4" height="6.9" fill="url(#hatch)" stroke="#222" stroke-width="1.05"/>
<rect x="441.2" y="88.5" width="7.4" height="6.9" fill="#8c8c8c" stroke="#222" stroke-width="1.05"/>
<line x1="397.5" y1="203.0" x2="520" y2="203.0" stroke="#4a4a4a" stroke-width="1.0"/>
<line x1="397.5" y1="192.76" x2="520" y2="192.76" stroke="#8a8a8a" stroke-width="0.8"/>
<line x1="397.5" y1="182.52" x2="520" y2="182.52" stroke="#8a8a8a" stroke-width="0.8"/>
<line x1="397.5" y1="172.28" x2="520" y2="172.28" stroke="#8a8a8a" stroke-width="0.8"/>
<line x1="397.5" y1="162.04" x2="520" y2="162.04" stroke="#8a8a8a" stroke-width="0.8"/>
<line x1="397.5" y1="151.8" x2="520" y2="151.8" stroke="#4a4a4a" stroke-width="1.0"/>
<line x1="397.5" y1="141.56" x2="520" y2="141.56" stroke="#8a8a8a" stroke-width="0.8"/>
<line x1="397.5" y1="131.32" x2="520" y2="131.32" stroke="#8a8a8a" stroke-width="0.8"/>
<line x1="397.5" y1="121.08" x2="520" y2="121.08" stroke="#8a8a8a" stroke-width="0.8"/>
<line x1="397.5" y1="110.84" x2="520" y2="110.84" stroke="#8a8a8a" stroke-width="0.8"/>
<line x1="397.5" y1="100.6" x2="520" y2="100.6" stroke="#8a8a8a" stroke-width="0.8"/>
<line x1="397.5" y1="100.6" x2="397.5" y2="205.0" stroke="#555" stroke-width="0.9"/>
<line x1="519.5" y1="100.6" x2="519.5" y2="203.0" stroke="#555" stroke-width="1.0"/>
<text x="393.6" y="205.3" font-size="6.4" text-anchor="end" fill="#111" stroke="#111" stroke-width="0.18">0</text>
<line x1="395.5" y1="203.0" x2="397.5" y2="203.0" stroke="#555" stroke-width="0.7"/>
<text x="393.6" y="184.82000000000002" font-size="6.4" text-anchor="end" fill="#111" stroke="#111" stroke-width="0.18">20</text>
<line x1="395.5" y1="182.52" x2="397.5" y2="182.52" stroke="#555" stroke-width="0.7"/>
<text x="393.6" y="164.34" font-size="6.4" text-anchor="end" fill="#111" stroke="#111" stroke-width="0.18">40</text>
<line x1="395.5" y1="162.04" x2="397.5" y2="162.04" stroke="#555" stroke-width="0.7"/>
<text x="393.6" y="143.86" font-size="6.4" text-anchor="end" fill="#111" stroke="#111" stroke-width="0.18">60</text>
<line x1="395.5" y1="141.56" x2="397.5" y2="141.56" stroke="#555" stroke-width="0.7"/>
<text x="393.6" y="123.38" font-size="6.4" text-anchor="end" fill="#111" stroke="#111" stroke-width="0.18">80</text>
<line x1="395.5" y1="121.08" x2="397.5" y2="121.08" stroke="#555" stroke-width="0.7"/>
<text x="393.6" y="102.89999999999999" font-size="6.4" text-anchor="end" fill="#111" stroke="#111" stroke-width="0.18">100</text>
<line x1="395.5" y1="100.6" x2="397.5" y2="100.6" stroke="#555" stroke-width="0.7"/>
<text transform="translate(376.4,187.2) rotate(-90)" font-size="6.6" fill="#111" stroke="#111" stroke-width="0.18">% Expression at time 0</text>
<text x="419.2" y="213" font-size="6.6" text-anchor="start" fill="#111" stroke="#111" stroke-width="0.18">NF<tspan font-style="italic" font-size="5.6">κ</tspan>B</text>
<text x="451.7" y="213" font-size="6.6" fill="#111" stroke="#111" stroke-width="0.18">A<tspan font-size="4.2" dy="1.3">2A</tspan><tspan dy="-1.3">R</tspan></text>
<text x="481.5" y="213" font-size="6.6" text-anchor="start" fill="#111" stroke="#111" stroke-width="0.18">IFN-γ</text>
<line x1="420.75" y1="183.54399999999998" x2="420.75" y2="195.832" stroke="#777" stroke-width="0.7"/>
<line x1="418.3" y1="195.832" x2="423.2" y2="195.832" stroke="#777" stroke-width="0.7"/>
<rect x="417.8" y="167.16" width="5.899999999999977" height="16.38" fill="#fff" stroke="#1c1c1c" stroke-width="1.15" rx="0.6"/>
<line x1="417.8" y1="177.4" x2="423.7" y2="177.4" stroke="#222" stroke-width="0.8"/>
<circle cx="420.6" cy="139.51" r="1.3" fill="#111"/>
<rect x="425" y="166.14" width="6.399999999999977" height="10.24" fill="url(#hatch)" stroke="#1c1c1c" stroke-width="1.15" rx="0.6"/>
<circle cx="428" cy="129.27" r="1.3" fill="#111"/>
<line x1="436.1" y1="152.824" x2="436.1" y2="162.04" stroke="#777" stroke-width="0.7"/>
<line x1="433.5" y1="162.04" x2="438.7" y2="162.04" stroke="#777" stroke-width="0.7"/>
<line x1="436.1" y1="131.32" x2="436.1" y2="118.52" stroke="#777" stroke-width="0.7"/>
<line x1="433.5" y1="118.52" x2="438.7" y2="118.52" stroke="#777" stroke-width="0.7"/>
<rect x="433" y="131.32" width="6.199999999999989" height="21.50" fill="#8c8c8c" stroke="#1c1c1c" stroke-width="1.15" rx="0.6"/>
<line x1="433" y1="141.56" x2="439.2" y2="141.56" stroke="#222" stroke-width="0.8"/>
<line x1="451.05" y1="185.07999999999998" x2="451.05" y2="196.856" stroke="#777" stroke-width="0.7"/>
<line x1="448.8" y1="196.856" x2="453.3" y2="196.856" stroke="#777" stroke-width="0.7"/>
<rect x="448.3" y="169.21" width="5.5" height="15.87" fill="#fff" stroke="#1c1c1c" stroke-width="1.15" rx="0.6"/>
<line x1="448.3" y1="177.4" x2="453.8" y2="177.4" stroke="#222" stroke-width="0.8"/>
<circle cx="451.4" cy="140.54" r="1.3" fill="#111"/>
<line x1="458.75" y1="171.256" x2="458.75" y2="174.84" stroke="#777" stroke-width="0.7"/>
<line x1="456.5" y1="174.84" x2="461.0" y2="174.84" stroke="#777" stroke-width="0.7"/>
<rect x="456" y="148.73" width="5.5" height="22.53" fill="url(#hatch)" stroke="#1c1c1c" stroke-width="1.15" rx="0.6"/>
<circle cx="458.5" cy="115.96" r="1.3" fill="#111"/>
<line x1="466.45" y1="129.272" x2="466.45" y2="143.608" stroke="#777" stroke-width="0.7"/>
<line x1="464.2" y1="143.608" x2="468.7" y2="143.608" stroke="#777" stroke-width="0.7"/>
<rect x="463.7" y="118.52" width="5.5" height="10.75" fill="#8c8c8c" stroke="#1c1c1c" stroke-width="1.15" rx="0.6"/>
<line x1="463.7" y1="124.152" x2="469.2" y2="124.152" stroke="#222" stroke-width="0.8"/>
<line x1="482.0" y1="187.128" x2="482.0" y2="194.808" stroke="#777" stroke-width="0.7"/>
<line x1="479.9" y1="194.808" x2="484.1" y2="194.808" stroke="#777" stroke-width="0.7"/>
<line x1="482.0" y1="167.16" x2="482.0" y2="139.0" stroke="#777" stroke-width="0.7"/>
<line x1="479.9" y1="139.0" x2="484.1" y2="139.0" stroke="#777" stroke-width="0.7"/>
<rect x="479.4" y="167.16" width="5.2000000000000455" height="19.97" fill="#fff" stroke="#1c1c1c" stroke-width="1.15" rx="0.6"/>
<line x1="479.4" y1="180.984" x2="484.6" y2="180.984" stroke="#222" stroke-width="0.8"/>
<rect x="486.8" y="171.26" width="5.5" height="15.87" fill="url(#hatch)" stroke="#1c1c1c" stroke-width="1.15" rx="0.6"/>
<circle cx="489" cy="133.37" r="1.3" fill="#111"/>
<line x1="496.9" y1="144.632" x2="496.9" y2="141.048" stroke="#777" stroke-width="0.7"/>
<line x1="494.3" y1="141.048" x2="499.5" y2="141.048" stroke="#777" stroke-width="0.7"/>
<rect x="493.8" y="144.63" width="6.199999999999989" height="9.22" fill="#8c8c8c" stroke="#1c1c1c" stroke-width="1.15" rx="0.6"/>
<line x1="493.8" y1="149.24" x2="500" y2="149.24" stroke="#222" stroke-width="0.8"/>
<circle cx="497.5" cy="172.28" r="1.3" fill="#111"/>
</svg>
</body></html>
